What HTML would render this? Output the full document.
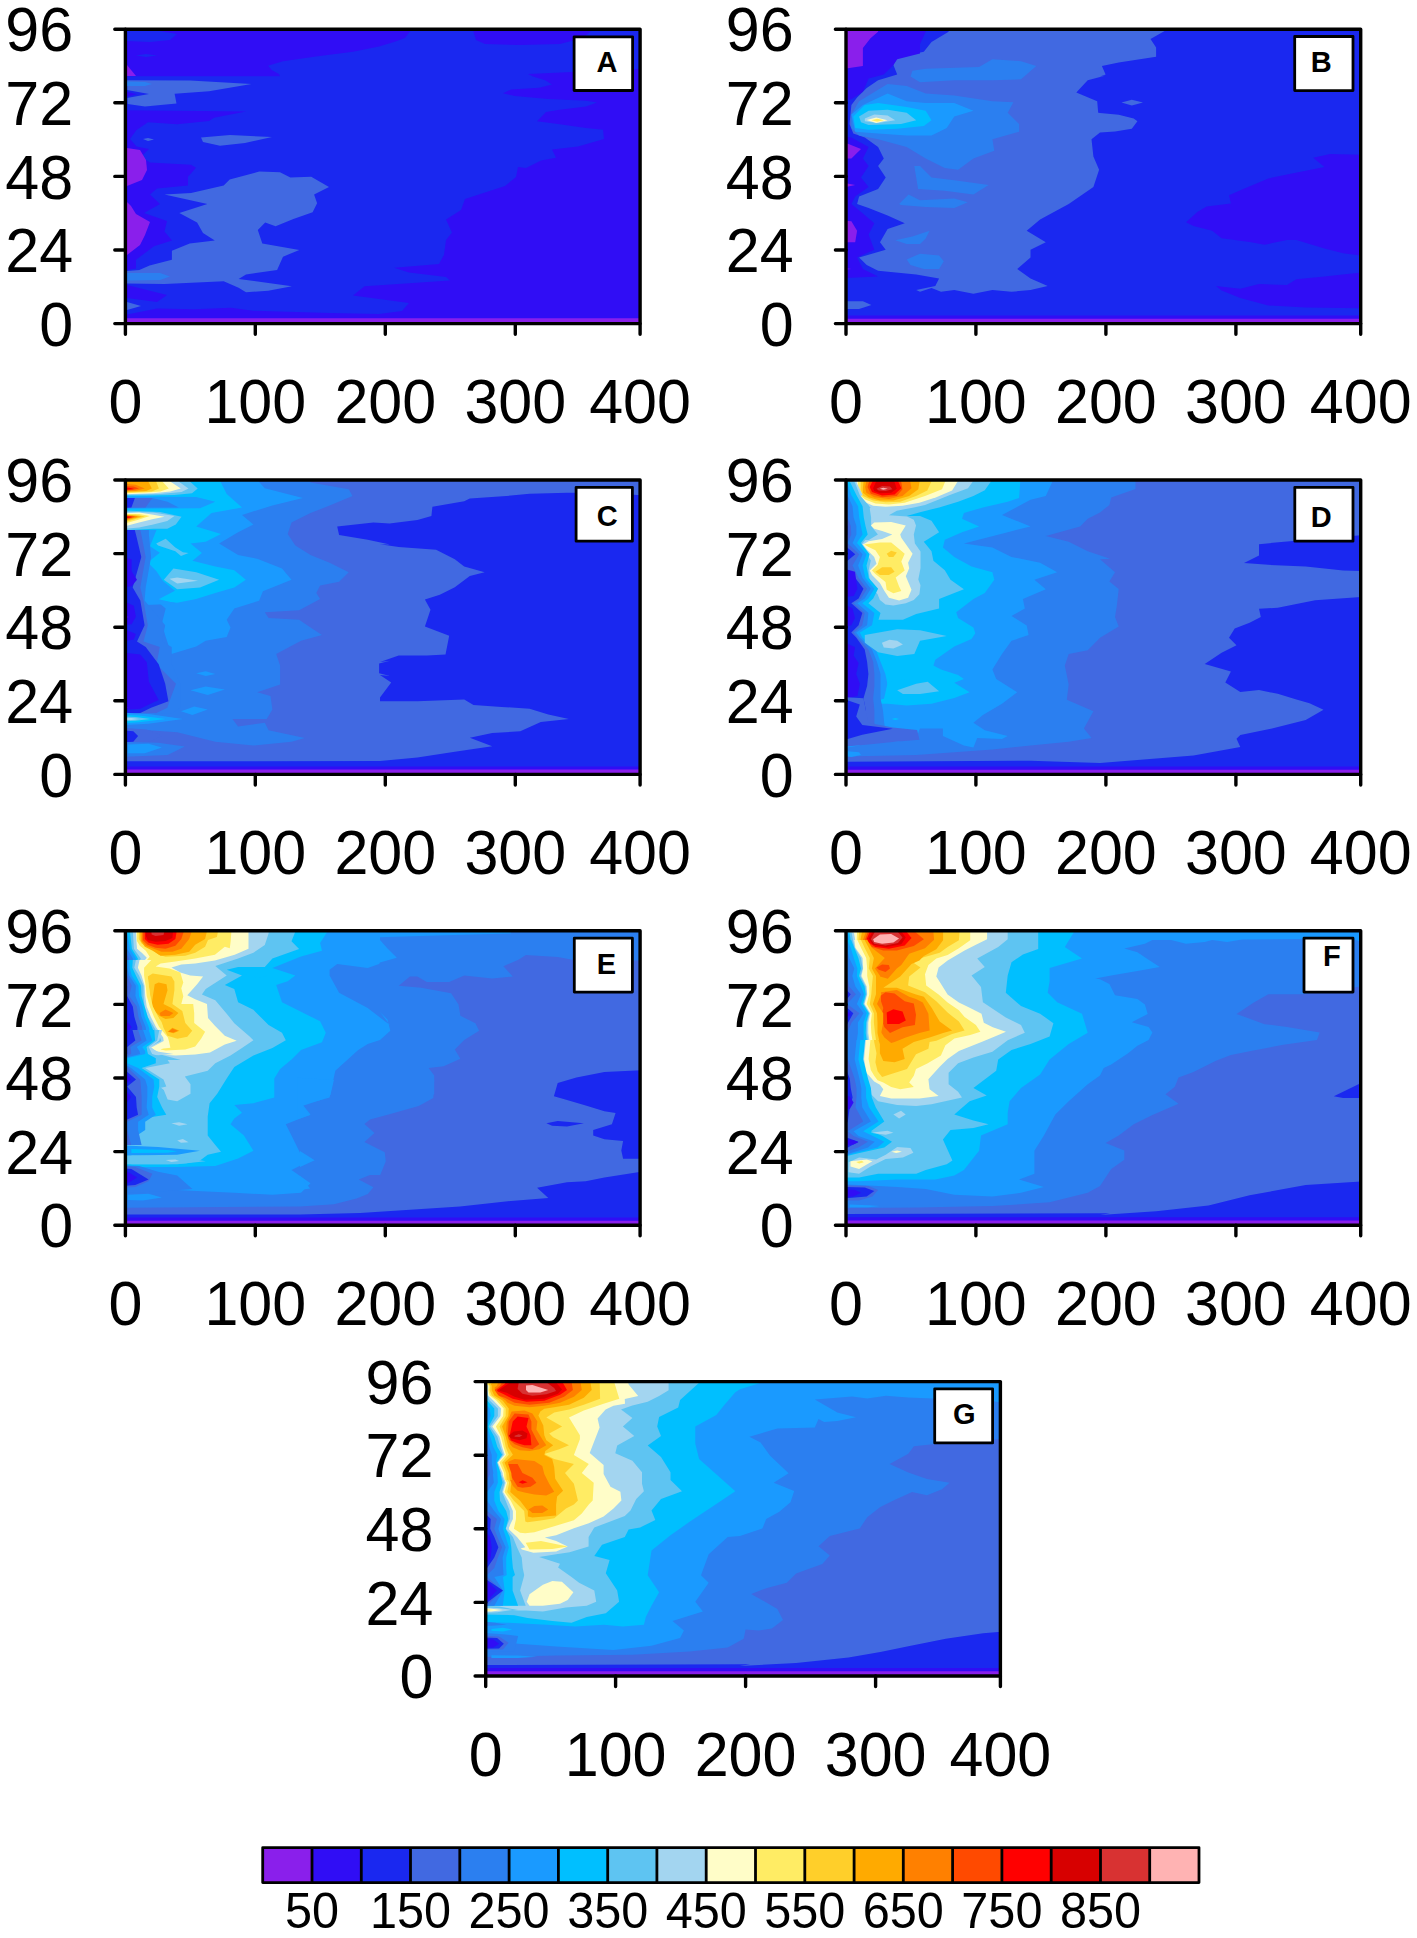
<!DOCTYPE html>
<html><head><meta charset="utf-8"><style>
html,body{margin:0;padding:0;background:#fff;}
body{width:1417px;height:1938px;overflow:hidden;}
svg{display:block;}
text{font-family:"Liberation Sans",sans-serif;fill:#000;}
.tl{font-size:61px;}
.cl{font-size:48.6px;}
.lab{font-size:29px;font-weight:bold;}
</style></head><body>
<svg width="1417" height="1938" viewBox="0 0 1417 1938">
<clipPath id="cA"><rect x="125.4" y="29.2" width="514.7" height="294.4"/></clipPath>
<g clip-path="url(#cA)">
<rect x="125.4" y="29.2" width="514.7" height="294.4" fill="#1A28F0"/>
<path fill="#300DF5" d="M127 30 411 30 405 38 394 42 379 46.5 353 51.7 316 56.5 283 61.3 268 65.8 272 70.2 279 74 280 76.3 127 76.3Z"/>
<path fill="#300DF5" d="M473 30 592 30 588 34 575 40 560 44 520 45 485 44 476 40Z"/>
<path fill="#300DF5" d="M639 69 572 72 528 74 533 76.4 545 80.2 552 84.5 539 87.7 511 89.5 503 93.3 515 96 548 98.9 586 100.7 597 102.6 586 106.4 558 110 546 112 537 121.3 558 124 586 128 603 129.7 604 139 578 146.6 552 149.4 556 157.8 541 160.6 526 168 518 167 516 177 505 186 465 199 461 210 446 219.5 452 232.5 446 240 444 254.7 439 264 394 267.7 409 272.5 446 277 450 280.6 364.5 286.2 353 295.5 409 303 402 311 379 314 330 313 253 310.8 231 307.8 194 309.3 157 308.6 127 314.5 127 322 639 322Z"/>
<path fill="#300DF5" d="M127 110.2 246 111.4 214 117.8 209 121 177 124.2 148 122.2 136.5 130 130 139 136.5 146.4 149 149 148 150 141 156.7 150 162.6 191 164.8 196 167.8 188 176.7 188 185.6 157 188.5 150 194.5 160 204 144 213 167 221 164.5 231.5 172 240.4 154 246.3 136 259.7 136 268.6 127 270Z"/>
<path fill="#300DF5" d="M127 285 167 295 157 302 127 298Z"/>
<path fill="#8A1FEB" d="M127 65 136 76 127 76Z"/>
<path fill="#8A1FEB" d="M127 148 140 150 146 160 147 170 142 180 127 186Z"/>
<path fill="#8A1FEB" d="M127 202 131 206 136 214 150 222 145 235 140 245 127 255Z"/>
<path fill="#8A1FEB" d="M127 318.2 639 318.2 639 323 127 323Z"/>
<path fill="#4169E1" d="M127 80.3 190 80.5 251.5 84 209 91.2 174.6 93.7 176.5 103.6 145 106.4 127.6 104Z"/>
<path fill="#1A28F0" d="M127 89.9 149 94 127 98Z"/>
<path fill="#300DF5" d="M127 91.8 137 94.3 127 96.8Z"/>
<path fill="#2B7FF0" d="M127 81.6 145 82 152 84 145 86 127 86Z"/>
<path fill="#4169E1" d="M201 137.5 230 135 272 137 245 143 220 145.7 203 142Z"/>
<path fill="#4169E1" d="M143 139 148 138 154 139.5 148 141Z"/>
<path fill="#4169E1" d="M164.5 194.5 207.4 204.1 179.3 213 197.1 222.6 203 233 214.8 240.4 189.7 243.4 171.9 250.8 171.9 259.7 149.6 265.6 139.3 270 127 271 127 283.4 164.5 284.1 223.7 281.2 238.6 287.8 246 292.3 268.2 290.8 291.9 286.3 238.6 278.9 246 274.5 277.1 270 283 256.7 299.3 250 262.3 243.4 257.8 230 265.2 222.6 275.6 226.3 293.4 218.9 312.6 212.2 317.1 203.3 314.1 194.5 329 187 311.2 176.7 290.4 177.4 280 172.2 259.3 171.5 229.7 179.6 223.7 185.6 191.1 193Z"/>
<path fill="#4169E1" d="M127 302 141 306 127 310Z"/>
<path fill="#2B7FF0" d="M127 273 160 273 170 276.5 160 280 127 280.4Z"/>
<path fill="#1A28F0" d="M127 30.7 160 31 177 34 170 40 150 42 127 41Z"/>
<path fill="#1A28F0" d="M136 55.5 146 54 157 55.5 146 57Z"/>
</g>
<rect x="125.4" y="29.2" width="514.7" height="294.4" fill="none" stroke="#000" stroke-width="3.4" stroke-linejoin="round"/>
<path d="M125.4 323.6V334.2M255.3 323.6V334.2M385.3 323.6V334.2M515.3 323.6V334.2M640.1 323.6V334.2M125.4 29.2H114.8M125.4 102.8H114.8M125.4 176.4H114.8M125.4 250.0H114.8M125.4 323.6H114.8" stroke="#000" stroke-width="3.4" stroke-linecap="round" fill="none"/>
<text x="125.4" y="422.5" text-anchor="middle" class="tl" transform="matrix(1 0 0 1.03 0 -12.03)">0</text>
<text x="255.3" y="422.5" text-anchor="middle" class="tl" transform="matrix(1 0 0 1.03 0 -12.03)">100</text>
<text x="385.3" y="422.5" text-anchor="middle" class="tl" transform="matrix(1 0 0 1.03 0 -12.03)">200</text>
<text x="515.3" y="422.5" text-anchor="middle" class="tl" transform="matrix(1 0 0 1.03 0 -12.03)">300</text>
<text x="640.1" y="422.5" text-anchor="middle" class="tl" transform="matrix(1 0 0 1.03 0 -12.03)">400</text>
<text x="73.1" y="50.8" text-anchor="end" class="tl" transform="matrix(1 0 0 1.03 0 -0.88)">96</text>
<text x="73.1" y="124.4" text-anchor="end" class="tl" transform="matrix(1 0 0 1.03 0 -3.08)">72</text>
<text x="73.1" y="198.0" text-anchor="end" class="tl" transform="matrix(1 0 0 1.03 0 -5.29)">48</text>
<text x="73.1" y="271.6" text-anchor="end" class="tl" transform="matrix(1 0 0 1.03 0 -7.50)">24</text>
<text x="73.1" y="345.2" text-anchor="end" class="tl" transform="matrix(1 0 0 1.03 0 -9.71)">0</text>
<rect x="574.1" y="36.8" width="58.5" height="53.7" fill="#fff" stroke="#000" stroke-width="2.8" stroke-linejoin="round"/>
<text x="596.4" y="72.3" class="lab">A</text>
<clipPath id="cB"><rect x="846.0" y="29.2" width="514.7" height="294.4"/></clipPath>
<g clip-path="url(#cB)">
<rect x="846.0" y="29.2" width="514.7" height="294.4" fill="#1A28F0"/>
<path fill="#4169E1" d="M948.6 21.2 1165.5 21.3 1165.5 30.6 1150.5 39 1156.1 47.4 1156.1 56.8 1118.7 62.4 1101.9 66.1 1105.6 74.6 1100 76.4 1105.8 75.5 1087.7 80.3 1076.3 92.6 1097.2 101.2 1098.2 112.7 1100 112.9 1118.7 114.8 1133.7 118.5 1137.4 121.3 1131.8 128.8 1115 131.6 1100 132.5 1091.5 139.3 1093.4 156.5 1099.1 169.8 1093.4 187 1068.7 204.1 1040.1 219.4 1026.7 230.8 1045.8 242.2 1030.5 249.8 1030.5 257.5 1017.2 268.9 1030.5 278.4 1047.7 286.1 1030.5 289.9 1011.5 291.8 992.4 289.9 973.4 293.7 954.3 289.9 941 291.8 931.5 288 920 291.8 916.2 289.9 935.3 286.1 939.1 278.4 916.2 274.6 878.1 270.8 866.7 265.1 859.1 257.5 885.7 249.8 880 242.2 887.6 228.9 904.8 223.2 887.6 215.5 868.6 207.9 857.1 204.1 859.1 196.5 878.1 188.9 885.7 177.4 878.1 166 883.8 158.4 878.1 147 864.8 137.4 853.3 133.6 849.5 124.1 851.4 105 857.1 97.4 866.7 87.9 878.1 80.3 897.2 74.5 893.4 65 897.2 57.4 923.8 51.7 931.5 42.1 948.6 31.7Z"/>
<path fill="#4169E1" d="M1121.5 102.6 1131.8 99.8 1143 102.6 1131.8 105.4Z"/>
<path fill="#4169E1" d="M836.2 301.3 862.9 301.3 871.4 305.1 859.1 308.9 836.2 308.9Z"/>
<path fill="#300DF5" d="M836.2 21.2 925.7 21.2 925.7 31.7 920 44.1 920 53.6 897.2 59.3 893.4 65 883.8 74.5 868.6 78.4 862.9 91.7 851.4 99.3 836.2 101.2Z"/>
<path fill="#300DF5" d="M836.2 135.5 851.4 137.4 868.6 147 862.9 158.4 868.6 166 861 177.4 868.6 187 855.2 196.5 851.4 204.1 862.9 213.6 874.3 223.2 868.6 234.6 874.3 249.8 857.1 257.5 862.9 268.9 878.1 276.5 836.2 278.4Z"/>
<path fill="#8A1FEB" d="M836.2 21.2 878.1 21.2 878.1 31.7 870.5 38.3 862.9 47.9 862.9 66 836.2 69.8Z"/>
<path fill="#8A1FEB" d="M836.2 139.3 861 148.9 851.4 158.4 836.2 158.4Z"/>
<path fill="#8A1FEB" d="M836.2 181.2 855.2 185.1 836.2 188.9Z"/>
<path fill="#8A1FEB" d="M836.2 219.4 851.4 221.3 857.1 230.8 855.2 242.2 836.2 242.2Z"/>
<path fill="#8A1FEB" d="M836.2 267 851.4 268.9 836.2 270.8Z"/>
<path fill="#2B7FF0" d="M912.4 70.7 925.7 68.8 979.1 66.9 992.4 59.3 1021 61.2 1036.3 66 1021 79.3 992.4 80.3 954.3 80.3 920 82.2 910.5 76.4Z"/>
<path fill="#2B7FF0" d="M851.4 114.6 859.1 101.2 878.1 89.8 887.6 84.1 906.7 86 925.7 93.6 954.3 95.5 992.4 101.2 1013.4 102.2 1007.7 112.7 1019.1 124.1 1019.1 131.7 992.4 139.3 994.3 150.8 973.4 158.4 958.1 169.8 944.8 167.9 925.7 158.4 906.7 147 878.1 139.3 859.1 135.5 851.4 127.9Z"/>
<path fill="#2B7FF0" d="M914.3 166 920 166 931.5 177.4 954.3 180.3 988.6 185.1 973.4 194.6 944.8 190.8 918.1 188.9 916.2 177.4Z"/>
<path fill="#2B7FF0" d="M899.1 204.1 908.6 194.6 920 200.3 954.3 198.4 967.7 202.2 954.3 207.9 925.7 207 901 205.1Z"/>
<path fill="#2B7FF0" d="M895.3 240.3 912.4 236.5 929.6 230.8 925.7 238.4 920 244.1 906.7 244.1Z"/>
<path fill="#2B7FF0" d="M906.7 259.4 920 253.7 939.1 255.6 943.8 261.3 939.1 268.9 923.8 268.9 910.5 265.1Z"/>
<path fill="#1A9AFF" d="M851.4 114.6 862.9 105 887.6 93.6 906.7 101.2 925.7 103.1 954.3 103.1 973.4 110.7 954.3 116.5 946.7 127.9 931.5 135.5 906.7 135.5 878.1 133.6 855.2 131.7Z"/>
<path fill="#00BFFF" d="M853.3 116.5 864.8 105 878.1 103.1 906.7 106.9 925.7 110.7 931.5 120.3 923.8 126 897.2 128.8 868.6 129.8 855.2 127.9Z"/>
<path fill="#5EC4F2" d="M859.1 116.5 868.6 110.7 887.6 109.8 906.7 112.7 916.2 120.3 901 124.1 868.6 125 861 122.2Z"/>
<path fill="#A3D5F0" d="M864.8 118.4 874.3 114.6 887.6 115.5 895.3 120.3 878.1 123.1 864.8 121.2Z"/>
<path fill="#FFFDC8" d="M866.7 119.9 876.2 117.4 887.6 120.3 876.2 123.1Z"/>
<path fill="#FFEC64" d="M871.4 120.3 877.2 118.8 883.8 120.3 877.2 121.8Z"/>
<path fill="#300DF5" d="M1186 222.3 1197.3 212 1206.6 206.4 1230.9 203.6 1229 195.2 1242.1 189.6 1268.3 178.4 1287 174.6 1324.4 167.1 1313.2 157.8 1330 154 1365.6 155 1365.6 256 1343.1 253.2 1324.4 248.5 1296.4 240.1 1287 240.1 1264.6 244.7 1249.6 241.9 1221.6 238.2 1212.2 230.7 1193.5 226Z"/>
<path fill="#300DF5" d="M1216 285.9 1240.3 288.7 1259 284 1287 285 1296.4 279.3 1324.4 276.5 1365.6 271.9 1365.6 308.3 1305.7 307.4 1268.3 305.5 1240.3 298.1 1221.6 290.6Z"/>
<path fill="#300DF5" d="M830 315.6 1370 315.6 1370 330 830 330Z"/>
<path fill="#8A1FEB" d="M830 318.8 1370 318.8 1370 330 830 330Z"/>
</g>
<rect x="846.0" y="29.2" width="514.7" height="294.4" fill="none" stroke="#000" stroke-width="3.4" stroke-linejoin="round"/>
<path d="M846.0 323.6V334.2M975.9 323.6V334.2M1105.9 323.6V334.2M1235.9 323.6V334.2M1360.7 323.6V334.2M846.0 29.2H835.4M846.0 102.8H835.4M846.0 176.4H835.4M846.0 250.0H835.4M846.0 323.6H835.4" stroke="#000" stroke-width="3.4" stroke-linecap="round" fill="none"/>
<text x="846.0" y="422.5" text-anchor="middle" class="tl" transform="matrix(1 0 0 1.03 0 -12.03)">0</text>
<text x="975.9" y="422.5" text-anchor="middle" class="tl" transform="matrix(1 0 0 1.03 0 -12.03)">100</text>
<text x="1105.9" y="422.5" text-anchor="middle" class="tl" transform="matrix(1 0 0 1.03 0 -12.03)">200</text>
<text x="1235.9" y="422.5" text-anchor="middle" class="tl" transform="matrix(1 0 0 1.03 0 -12.03)">300</text>
<text x="1360.7" y="422.5" text-anchor="middle" class="tl" transform="matrix(1 0 0 1.03 0 -12.03)">400</text>
<text x="793.7" y="50.8" text-anchor="end" class="tl" transform="matrix(1 0 0 1.03 0 -0.88)">96</text>
<text x="793.7" y="124.4" text-anchor="end" class="tl" transform="matrix(1 0 0 1.03 0 -3.08)">72</text>
<text x="793.7" y="198.0" text-anchor="end" class="tl" transform="matrix(1 0 0 1.03 0 -5.29)">48</text>
<text x="793.7" y="271.6" text-anchor="end" class="tl" transform="matrix(1 0 0 1.03 0 -7.50)">24</text>
<text x="793.7" y="345.2" text-anchor="end" class="tl" transform="matrix(1 0 0 1.03 0 -9.71)">0</text>
<rect x="1294.7" y="36.5" width="58.3" height="54.1" fill="#fff" stroke="#000" stroke-width="2.8" stroke-linejoin="round"/>
<text x="1310.8" y="72.1" class="lab">B</text>
<clipPath id="cC"><rect x="125.4" y="480.0" width="514.7" height="294.4"/></clipPath>
<g clip-path="url(#cC)">
<rect x="125.4" y="480.0" width="514.7" height="294.4" fill="#1A28F0"/>
<path fill="#4169E1" d="M116.2 471.2 645.6 471.3 645.6 495.6 604.4 492.8 567 492.8 529.6 493.7 510.9 495.6 469.8 498.4 464.2 501.2 432.4 506.8 431.4 516.1 417.4 519.9 389.4 523.6 380 522.7 390 523.6 373.4 522.6 337.2 526.4 339.1 535 367.7 539.8 390 544.6 380 544.2 398.7 547 436.1 549.8 454.8 559.2 464.2 566.6 484.7 572.3 469.8 576 454.8 587.2 439.8 594.7 424.9 599.4 430.5 609.7 424.9 626.5 449.2 635.8 445.5 654.5 426.8 655.5 398.7 655.5 380 662 390 660.8 379.1 663.6 379.1 673.2 390 676 380 675.1 391.2 682.6 380 697.6 380 701.3 417.4 701.3 464.2 699.4 473.5 705 501.6 706.9 529.6 708.8 548.3 714.4 568.9 719.1 540.8 721.9 520.3 731.2 492.2 733.1 469.8 737.8 492.2 746.2 454.8 751.8 417.4 757.4 380 761.1 116.2 761.2Z"/>
<path fill="#2B7FF0" d="M116.2 471.2 310.5 471.2 310.5 482.6 348.7 489.3 352.5 496 329.6 505.5 310.5 513.1 291.5 522.6 287.7 534.1 295.3 545.5 310.5 555 329.6 562.7 348.7 572.2 339.1 581.7 320.1 585.5 316.3 593.1 320.1 598.9 299.1 610.3 264.8 612.2 268.6 617.9 299.1 619.8 310.5 627.4 322 635.1 301 640.8 276.2 654.1 280.1 665.5 280.1 684.6 257.2 692.2 270.5 696 272.4 709.4 266.7 718.9 232.4 718.9 238.1 726.5 264.8 722.7 268.6 730.3 304.8 738 291.5 741.8 253.4 745.6 215.3 741.8 177.2 732.2 148.6 730.3 116.2 728.4Z"/>
<path fill="#4169E1" d="M196.2 617 205.7 613.1 219.1 617 209.6 619.8Z"/>
<path fill="#4169E1" d="M188.6 637 203.8 636 201.9 640.8Z"/>
<path fill="#1A9AFF" d="M116.2 471.2 249.6 471.2 264.8 488.3 302.9 497.9 272.4 505.5 242 515 253.4 524.5 238.1 532.2 219.1 543.6 238.1 555 257.2 558.8 282 568.4 291.5 579.8 262.9 591.2 259.1 600.8 234.3 608.4 226.7 619.8 230.5 627.4 226.7 637 205.7 640.8 196.2 646.5 171.4 654.1 165.7 637 161.9 623.6 165.7 608.4 154.3 598.9 142.9 597 116.2 597Z"/>
<path fill="#1A9AFF" d="M196.2 673.2 205.7 671.3 215.3 674.1 205.7 676Z"/>
<path fill="#1A9AFF" d="M190.5 690.3 205.7 686.5 224.8 689.4 207.7 695.1Z"/>
<path fill="#1A9AFF" d="M181 711.3 194.3 706.5 207.7 709.4 192.4 715.1Z"/>
<path fill="#00BFFF" d="M116.2 471.2 215.3 471.2 226.7 494.1 242 507.4 226.7 510.3 211.5 513.1 196.2 526.4 221 534.1 205.7 541.7 190.5 543.6 201.9 553.1 192.4 560.7 215.3 566.5 234.3 570.3 245.8 579.8 234.3 587.4 215.3 593.1 196.2 598.9 177.2 602.7 158.1 600.8 144.8 598.9 116.2 598.9Z"/>
<path fill="#5EC4F2" d="M156.2 543.6 165.7 538.8 175.3 547.4 182.9 552.2 188.6 553.1 181 556 175.3 551.2 158.1 545.5Z"/>
<path fill="#5EC4F2" d="M163.8 579.8 173.4 568.4 196.2 572.2 219.1 579.8 200 587.4 177.2 589.3Z"/>
<path fill="#A3D5F0" d="M169.5 578.8 177.2 577.5 198.1 580.8 177.2 583.6Z"/>
<path fill="#1A9AFF" d="M116.2 496.3 196.2 497.1 215.3 501.7 200 508.3 116.2 508.9Z"/>
<path fill="#2B7FF0" d="M116.2 497.9 152.4 498.1 167.6 501.7 178.7 507.6 116.2 507.8Z"/>
<path fill="#4169E1" d="M116.2 498.1 152.4 498.1 145.5 507.6 116.2 507.8Z"/>
<path fill="#1A28F0" d="M116.2 498.1 134.9 498.1 131.4 507.6 116.2 507.8Z"/>
<path fill="#5EC4F2" d="M123.6 476.6 189.9 476.6 189.9 481.5 197.7 488.6 192 493.2 174.4 494.9 146.2 495.6 123.6 495.6Z"/>
<path fill="#A3D5F0" d="M123.6 476.6 178.6 476.6 178.6 481.5 188.5 488.6 181.5 492.1 160.3 493.9 123.6 494.9Z"/>
<path fill="#FFFDC8" d="M123.6 476.6 170.2 476.6 170.2 481.5 180.8 488.6 170.2 491.4 153.2 493.2 123.6 494.2Z"/>
<path fill="#FFEC64" d="M123.6 476.6 162.4 476.6 162.4 481.5 168.8 488.6 160.3 491.4 146.2 492.5 123.6 493.2Z"/>
<path fill="#FFCF2A" d="M123.6 476.6 156.1 476.6 156.1 481.5 158.9 488.6 151.8 491.4 123.6 492.5Z"/>
<path fill="#FFAA00" d="M123.6 476.6 148.3 476.6 148.3 481.5 151.8 488.6 146.2 491.1 123.6 491.8Z"/>
<path fill="#FF8000" d="M123.6 483.6 135.6 484.7 144.8 488.6 135.6 490.7 123.6 491.1Z"/>
<path fill="#FF4A00" d="M123.6 485.8 133.5 486.5 139.1 488.6 132.1 490 123.6 490.4Z"/>
<path fill="#FF0000" d="M123.6 487.2 130.6 487.9 134.2 488.9 129.2 489.6 123.6 489.9Z"/>
<path fill="#5EC4F2" d="M123.6 510.5 160.3 511.9 181.5 516.8 175.8 524.6 167.3 528.8 153.2 528.8 139.1 529.5 123.6 530.2Z"/>
<path fill="#A3D5F0" d="M123.6 511.9 153.2 512.6 174.4 516.1 167.3 521 153.2 524.6 139.1 527.4 123.6 528.8Z"/>
<path fill="#FFFDC8" d="M123.6 513.3 139.1 512.6 153.2 514.7 164.5 516.8 153.2 518.9 139.1 522.5 123.6 526.7Z"/>
<path fill="#FFEC64" d="M123.6 514 139.1 514 149.7 516.1 139.1 519.6 123.6 523.9Z"/>
<path fill="#FFCF2A" d="M123.6 514.7 135.6 514.7 144.8 516.5 135.6 518.9 123.6 522.5Z"/>
<path fill="#FFAA00" d="M123.6 515.1 133.5 515.4 141.2 516.7 133.5 518.6 123.6 521Z"/>
<path fill="#FF8000" d="M123.6 515.4 132.1 515.8 137.7 516.7 132.1 518.2 123.6 520Z"/>
<path fill="#FF4A00" d="M123.6 515.8 130.6 516.1 134.9 516.8 130.6 517.9 123.6 519.3Z"/>
<path fill="#FF0000" d="M123.6 516.1 129.2 516.5 132.1 517 129.2 517.7 123.6 518.6Z"/>
<path fill="#1A9AFF" d="M102.3 530 156.5 530 150 546.3 159.8 552.8 147.8 562.5 156.5 571.2 163 580.9 174.9 590.7 158.7 599.3 178.2 603.7 121.8 605.8 102.3 605.8Z"/>
<path fill="#2B7FF0" d="M102.3 530 148.9 530 148.9 534.3 151.1 557.1 145.7 587.4 144.6 600.4 165.2 625.3 161.9 641.6 171.7 647 171.7 664.3 180.3 683.8 180.3 701.2 180.3 707.7 172.8 713.1 121.8 714.2 102.3 714.2Z"/>
<path fill="#4169E1" d="M102.3 530 140.3 530 141.3 534.3 145.7 557.1 140.3 587.4 143.5 600.4 147.8 625.3 143.5 641.6 159.8 647 156.5 664.3 176 683.8 169.5 701.2 167.3 707.7 156.5 713.1 121.8 714.2 102.3 714.2Z"/>
<path fill="#1A28F0" d="M102.3 530 134.8 530 135.9 534.3 141.3 557.1 132.7 587.4 140.3 600.4 144.6 625.3 137 641.6 145.7 647 158.7 664.3 165.2 683.8 168.4 701.2 151.1 707.7 140.3 713.1 121.8 714.2 102.3 714.2Z"/>
<path fill="#300DF5" d="M121.8 557.1 131.6 559.3 131.6 571.2 137 579.8 131.6 586.3 121.8 587.4Z"/>
<path fill="#300DF5" d="M121.8 600.4 133.8 605.8 135.9 616.7 131.6 624.3 121.8 625.3Z"/>
<path fill="#8A1FEB" d="M121.8 615.6 128.9 616.9 121.8 618.3Z"/>
<path fill="#300DF5" d="M121.8 628 135.9 634 133.8 639.4 121.8 641.6Z"/>
<path fill="#300DF5" d="M121.8 652.4 140.3 654.6 146.8 662.2 148.9 681.7 158.7 700.1 148.9 704.4 140.3 708.8 121.8 709.8Z"/>
<path fill="#8A1FEB" d="M121.8 706.6 128.3 707.7 121.8 708.8Z"/>
<path fill="#1A9AFF" d="M116.2 712.2 148.6 714.1 182.9 718.9 148.6 723.7 116.2 725.6Z"/>
<path fill="#00BFFF" d="M116.2 714.1 139.1 715.5 165.7 718.9 139.1 722.3 116.2 723.7Z"/>
<path fill="#5EC4F2" d="M116.2 716 135.2 717 150.5 718.9 135.2 720.8 116.2 721.8Z"/>
<path fill="#A3D5F0" d="M116.2 717.4 131.4 718.1 139.1 718.9 131.4 719.9 116.2 720.4Z"/>
<path fill="#4169E1" d="M116.2 727.5 146.7 729.4 161.9 736.1 146.7 742.7 116.2 743.7Z"/>
<path fill="#1A28F0" d="M116.2 729.4 133.3 731.3 138.1 736.1 133.3 741.8 116.2 742.7Z"/>
<path fill="#2B7FF0" d="M116.2 741.8 158.1 742.7 184.8 746.5 167.6 755.1 116.2 757Z"/>
<path fill="#1A9AFF" d="M127.6 744.6 148.6 743.7 161.9 747.5 144.8 753.2 127.6 753.2Z"/>
<path fill="#300DF5" d="M110 766.4 650 766.4 650 780 110 780Z"/>
<path fill="#8A1FEB" d="M110 769.6 650 769.6 650 780 110 780Z"/>
</g>
<rect x="125.4" y="480.0" width="514.7" height="294.4" fill="none" stroke="#000" stroke-width="3.4" stroke-linejoin="round"/>
<path d="M125.4 774.4V785.0M255.3 774.4V785.0M385.3 774.4V785.0M515.3 774.4V785.0M640.1 774.4V785.0M125.4 480.0H114.8M125.4 553.6H114.8M125.4 627.2H114.8M125.4 700.8H114.8M125.4 774.4H114.8" stroke="#000" stroke-width="3.4" stroke-linecap="round" fill="none"/>
<text x="125.4" y="873.3" text-anchor="middle" class="tl" transform="matrix(1 0 0 1.03 0 -25.55)">0</text>
<text x="255.3" y="873.3" text-anchor="middle" class="tl" transform="matrix(1 0 0 1.03 0 -25.55)">100</text>
<text x="385.3" y="873.3" text-anchor="middle" class="tl" transform="matrix(1 0 0 1.03 0 -25.55)">200</text>
<text x="515.3" y="873.3" text-anchor="middle" class="tl" transform="matrix(1 0 0 1.03 0 -25.55)">300</text>
<text x="640.1" y="873.3" text-anchor="middle" class="tl" transform="matrix(1 0 0 1.03 0 -25.55)">400</text>
<text x="73.1" y="501.6" text-anchor="end" class="tl" transform="matrix(1 0 0 1.03 0 -14.40)">96</text>
<text x="73.1" y="575.2" text-anchor="end" class="tl" transform="matrix(1 0 0 1.03 0 -16.61)">72</text>
<text x="73.1" y="648.8" text-anchor="end" class="tl" transform="matrix(1 0 0 1.03 0 -18.82)">48</text>
<text x="73.1" y="722.4" text-anchor="end" class="tl" transform="matrix(1 0 0 1.03 0 -21.02)">24</text>
<text x="73.1" y="796.0" text-anchor="end" class="tl" transform="matrix(1 0 0 1.03 0 -23.23)">0</text>
<rect x="576.1" y="487.3" width="56.3" height="53.9" fill="#fff" stroke="#000" stroke-width="2.8" stroke-linejoin="round"/>
<text x="596.7" y="526.4" class="lab">C</text>
<clipPath id="cD"><rect x="846.0" y="480.0" width="514.7" height="294.4"/></clipPath>
<g clip-path="url(#cD)">
<rect x="846.0" y="480.0" width="514.7" height="294.4" fill="#4169E1"/>
<path fill="#2B7FF0" d="M836.2 471.2 1135.5 471.3 1135.5 489 1111.2 497.4 1109.4 504.9 1100 512.4 1087.7 518.8 1080.1 526.4 1045.8 536 1068.7 541.7 1087.7 551.2 1110 558.8 1100 559.2 1115 572.3 1109.4 581.6 1118.7 589.1 1116.8 605.9 1115 617.1 1118.7 626.5 1100 637.7 1087.7 650.3 1068.7 654.1 1064.8 665.5 1068.7 684.6 1066.8 699.8 1093.4 711.3 1083.9 728.4 1091.5 738 1068.7 741.8 1030.5 745.6 992.4 749.4 916.2 755.1 836.2 756.6Z"/>
<path fill="#1A9AFF" d="M836.2 471.2 1057.2 471.2 1045.8 496 1030.5 499.8 1002 515 1030.5 526.4 1007.7 532.2 963.9 543.6 992.4 547.4 1011.5 556.9 1040.1 562.7 1057.2 572.2 1034.4 579.8 1045.8 589.3 1022.9 598.9 1024.8 608.4 1011.5 616 1026.7 625.5 1028.6 635.1 1011.5 640.8 1002 654.1 992.4 669.4 996.2 678.9 1017.2 692.2 1002 703.7 982.9 715.1 973.4 722.7 984.8 730.3 1007.7 736.1 1002 738.9 977.2 738 973.4 747.5 963.9 745.6 942.9 736.1 942.9 728.4 920 728.4 916.2 738 897.2 741.8 878.1 739.9 859.1 745.6 836.2 749.4Z"/>
<path fill="#00BFFF" d="M836.2 471.2 1021 471.2 1019.1 497.9 1007.7 501.7 982.9 507.4 963.9 513.1 962 518.8 979.1 526.4 962 532.2 944.8 539.8 942.9 547.4 954.3 556.9 971.5 566.5 992.4 572.2 994.3 579.8 984.8 593.1 973.4 598.9 956.2 612.2 958.1 617.9 973.4 627.4 975.3 633.2 971.5 638.9 954.3 646.5 935.3 659.8 933.4 665.5 941 669.4 958.1 675.1 963.9 678.9 954.3 682.7 969.6 692.2 954.3 697.9 931.5 703.7 906.7 705.6 887.6 703.7 836.2 703.7Z"/>
<path fill="#5EC4F2" d="M836.2 471.2 998.2 471.2 984.8 490.2 973.4 496 958.1 501.7 939.1 507.4 920 512.2 906.7 516 920 516 931.5 520.7 939.1 532.2 923.8 541.7 931.5 551.2 933.4 560.7 944.8 570.3 950.5 579.8 963.9 589.3 954.3 593.1 939.1 598.9 939.1 608.4 916.2 614.1 902.9 619.8 836.2 619.8Z"/>
<path fill="#A3D5F0" d="M843.7 475.7 977 475.7 968 488.2 949.9 494.9 936.3 500.6 925 505.1 913.8 507.4 896.8 510.7 888.9 515.3 907 516.4 913.8 519.8 916 525.4 913.8 534.5 914.9 543.5 920.5 551.4 920.5 561.6 920.5 568.3 918.3 579.6 920.5 585.3 919.4 594.3 913.8 600 905.8 603.3 893.4 605.6 885.5 604.5 879.9 600 877.6 594.3 872 587.5 869.7 579.6 868.6 570.6 870.8 560.4 865.2 551.4 860.7 545.8 865.2 540.1 874.2 535.6 867.5 532.2 864.1 525.4 864.1 516.4 867.5 509.6 870.8 507.4 865.2 505.1 858.4 498.3 855 489.3 852.8 475.7Z"/>
<path fill="#FFFDC8" d="M856.7 475.7 961.2 475.7 952.1 490.4 936.3 497.2 919.4 502.8 902.5 505.7 885.5 506.8 873.1 505.7 864.1 501.7 858.4 496.1 856.7 489.3Z"/>
<path fill="#FFFDC8" d="M870.8 525.4 874.2 522.6 891.2 522 905.8 525.4 900.2 534.5 901.3 537.8 912.6 553.7 908.1 562.7 909.2 568.3 905.8 576.2 911.5 589.8 908.1 597.7 899.1 600.5 888.9 597.7 884.4 590.9 879.9 583 872 575.1 869.7 570.6 876.5 563.8 874.2 557 867.5 550.3 862.9 544.6 868.6 541.2 882.1 539 892.3 534.5 882.1 531.1 874.2 528.8Z"/>
<path fill="#FFEC64" d="M857.3 475.7 947.6 475.7 942 489.3 925 496.1 904.7 502.8 888.9 504.5 875.4 503.4 865.2 499.5 859.6 494.9 858.4 489.3Z"/>
<path fill="#FFEC64" d="M864.1 544.6 879.9 542.4 891.2 542.4 897.9 548 904.7 553.7 901.3 561.6 904.7 570.6 895.7 577.4 899.1 586.4 901.3 590.9 893.4 593.2 886.7 589.8 885.5 581.9 879.9 577.4 875.4 574 872 570.6 877.6 564.9 879.9 557 875.4 550.3 868.6 546.9Z"/>
<path fill="#FFCF2A" d="M860.7 475.7 934.1 475.7 927.3 490.4 916 496.1 900.2 501.7 885.5 502.3 873.1 500.6 862.9 496.1 860.7 489.3Z"/>
<path fill="#FFCF2A" d="M886.7 553.7 891.2 550.8 896.8 552.5 893.4 557 888.9 557Z"/>
<path fill="#FFCF2A" d="M875.4 571.7 882.1 567.2 891.2 567.2 894.6 571.7 888.9 575.1 879.9 575.1Z"/>
<path fill="#FFAA00" d="M864.1 475.7 920.5 475.7 918.3 489.3 909.2 496.1 893.4 500.6 879.9 500.6 868.6 497.2 862.9 492.7 862.9 488.2Z"/>
<path fill="#FF8000" d="M867.5 475.7 909.2 475.7 911.5 488.2 902.5 496.1 888.9 498.9 874.2 497.2 866.3 492.7 865.2 487Z"/>
<path fill="#FF4A00" d="M870.8 475.7 900.2 475.7 902.5 489.3 896.8 496.1 882.1 497.2 870.8 493.8 867.5 487Z"/>
<path fill="#FF0000" d="M875.4 475.7 895.7 475.7 901.3 488.2 894.6 494.4 882.1 495.5 872 492.1 869.7 487Z"/>
<path fill="#D70000" d="M878.7 475.7 892.3 475.7 896.8 488.7 891.2 492.7 879.9 493.2 874.2 491 873.1 488.2Z"/>
<path fill="#D83232" d="M882.1 485.9 890 486.5 892.3 489.3 885.5 491 878.7 490.4 876.5 488.7Z"/>
<path fill="#FFB3B3" d="M879.9 488.7 883.3 487.7 887.8 488.7 883.3 489.7Z"/>
<path fill="#A3D5F0" d="M832.7 481.4 855.3 481.4 857 483.6 862.6 494.9 842.9 506.2 842.9 517.5 842.9 526 842.9 534.5 842.9 540 832.7 540Z"/>
<path fill="#5EC4F2" d="M832.7 481.4 854.2 481.4 855.3 483.6 859.8 494.9 869.4 506.2 871.1 517.5 871.1 526 877.9 534.5 868.7 540 832.7 540Z"/>
<path fill="#00BFFF" d="M832.7 481.4 849.6 481.4 850.8 483.6 856.4 494.9 862.6 506.2 863.8 517.5 865.5 526 867.7 534.5 863.2 540 832.7 540Z"/>
<path fill="#1A9AFF" d="M832.7 481.4 847.4 481.4 847.4 483.6 851.3 494.9 858.1 506.2 859.2 517.5 860.9 526 862.6 534.5 858.7 540 832.7 540Z"/>
<path fill="#2B7FF0" d="M832.7 481.4 842.9 481.4 842.9 483.6 847.4 494.9 852.5 506.2 853.6 517.5 856.4 526 856.4 534.5 853.9 540 832.7 540Z"/>
<path fill="#4169E1" d="M832.7 481.4 842.9 481.4 842.9 483.6 842.9 494.9 847.4 506.2 847.4 517.5 850.8 526 851.3 534.5 848.8 540 832.7 540Z"/>
<path fill="#1A28F0" d="M832.7 481.4 842.9 481.4 842.9 483.6 842.9 494.9 842.9 506.2 842.9 517.5 847.4 526 847.4 534.5 845.1 540 832.7 540Z"/>
<path fill="#00BFFF" d="M819.6 540 863.2 540 860.9 542.9 869.5 554.2 866.5 565.6 868.8 578 878.1 588.7 873.2 598.5 868.4 603.3 880.5 613.1 876.9 625.2 864.7 632.5 865.9 637.4 880.5 649.6 884.2 661.8 890.3 674 895.1 686.1 841.6 698.3 841.6 710.5 841.6 722.7 841.6 730 819.6 730Z"/>
<path fill="#1A9AFF" d="M819.6 540 858.7 540 857 542.9 866.5 554.2 862.6 565.6 865.4 578 874.4 588.7 868.4 598.5 862.3 603.3 874.4 613.1 872 625.2 859.8 632.5 862.3 637.4 875.7 649.6 880.5 661.8 885.4 674 887.8 686.1 885.4 698.3 841.6 710.5 841.6 722.7 841.6 730 819.6 730Z"/>
<path fill="#2B7FF0" d="M819.6 540 854 540 852.5 542.9 862.6 554.2 858.1 565.6 862.6 578 870.8 588.7 864.7 598.5 857.4 603.3 868.4 613.1 867.1 625.2 856.2 632.5 859.8 637.4 872 649.6 876.9 661.8 880.5 674 880.5 686.1 880.5 698.3 883 710.5 884.2 722.7 885.4 730 819.6 730Z"/>
<path fill="#4169E1" d="M819.6 540 848.7 540 847.4 542.9 859.2 554.2 852.5 565.6 858.7 578 867.1 588.7 861 598.5 853.7 603.3 864.7 613.1 862.3 625.2 853.7 632.5 857.4 637.4 868.4 649.6 873.2 661.8 874.4 674 874.4 686.1 873.2 698.3 874.4 710.5 874.4 722.7 875.7 730 819.6 730Z"/>
<path fill="#1A28F0" d="M819.6 540 845.1 540 841.6 542.9 855.3 554.2 841.6 565.6 855.3 578 863.5 588.7 858.6 598.5 851.3 603.3 862.3 613.1 858.6 625.2 851.3 632.5 856.2 637.4 864.7 649.6 867.1 661.8 868.4 674 867.1 686.1 863.5 698.3 865.9 710.5 865.9 722.7 865.9 730 819.6 730Z"/>
<path fill="#5EC4F2" d="M864.8 635.1 897.2 629.3 920 630.3 946.7 636 920 640.8 914.3 654.1 897.2 656 878.1 652.2 864.8 642.7Z"/>
<path fill="#A3D5F0" d="M881.9 642.7 889.5 639.8 897.2 640.8 902.9 644.6 893.4 648.4 883.8 647.4Z"/>
<path fill="#00BFFF" d="M887.6 682.7 906.7 678.9 925.7 680.8 935.3 688.4 939.1 696 916.2 699.8 897.2 703.7 883.8 699.8Z"/>
<path fill="#5EC4F2" d="M897.2 690.3 916.2 683.7 927.7 681.7 933.4 686.5 939.1 691.3 920 694.1 902.9 694.1Z"/>
<path fill="#00BFFF" d="M891.4 718.9 895.3 717.9 899.1 718.9 895.3 719.9Z"/>
<path fill="#300DF5" d="M841.6 568 855 571.7 856.2 580.2 857.4 588.7 853.7 596 841.6 597.2Z"/>
<path fill="#300DF5" d="M841.6 603.3 852.5 608.2 855 617.9 851.3 625.2 841.6 627.7Z"/>
<path fill="#300DF5" d="M841.6 641.1 855 647.2 853.7 655.7 858.6 663 856.2 674 859.8 683.7 857.4 695.9 841.6 699.5Z"/>
<path fill="#4169E1" d="M841.6 697.1 863.5 698.3 865.9 710.5 868.4 722.7 892.7 727.5 917.1 730 919.5 739.7 892.7 742.1 868.4 744.6 841.6 747Z"/>
<path fill="#1A28F0" d="M841.6 698.3 859.8 704.4 856.2 716.6 862.3 725.1 892.7 728.7 862.3 734.8 841.6 740.9Z"/>
<path fill="#1A9AFF" d="M847.6 751.3 859.1 752.2 861 755.1 851.4 757 847.6 756.6Z"/>
<path fill="#1A28F0" d="M1244 562.9 1259 555.4 1259 544.2 1287 541.4 1365.6 534.8 1365.6 571.3 1343.1 570.4 1305.7 566.6 1268.3 564.8Z"/>
<path fill="#1A28F0" d="M1365.6 596.6 1315.1 600.3 1277.7 607.8 1259 608.7 1260.8 617.1 1249.6 622.7 1234.7 628.4 1229 637.7 1236.5 645.2 1221.6 652.7 1204.7 663.9 1230.9 671.4 1225.3 682.6 1240.3 691.9 1259 690.1 1277.7 693.8 1296.4 699.4 1309.5 703.2 1323.5 709.7 1305.7 720 1268.3 729.3 1240.3 735 1236.5 738.7 1240.3 747.1 1193.5 755.5 1100 763 1030.5 760.8 836.2 761.8 836.2 798.9 1365.6 792.9Z"/>
<path fill="#300DF5" d="M830 766.6 1370 766.6 1370 780 830 780Z"/>
<path fill="#8A1FEB" d="M830 769.8 1370 769.8 1370 780 830 780Z"/>
</g>
<rect x="846.0" y="480.0" width="514.7" height="294.4" fill="none" stroke="#000" stroke-width="3.4" stroke-linejoin="round"/>
<path d="M846.0 774.4V785.0M975.9 774.4V785.0M1105.9 774.4V785.0M1235.9 774.4V785.0M1360.7 774.4V785.0M846.0 480.0H835.4M846.0 553.6H835.4M846.0 627.2H835.4M846.0 700.8H835.4M846.0 774.4H835.4" stroke="#000" stroke-width="3.4" stroke-linecap="round" fill="none"/>
<text x="846.0" y="873.3" text-anchor="middle" class="tl" transform="matrix(1 0 0 1.03 0 -25.55)">0</text>
<text x="975.9" y="873.3" text-anchor="middle" class="tl" transform="matrix(1 0 0 1.03 0 -25.55)">100</text>
<text x="1105.9" y="873.3" text-anchor="middle" class="tl" transform="matrix(1 0 0 1.03 0 -25.55)">200</text>
<text x="1235.9" y="873.3" text-anchor="middle" class="tl" transform="matrix(1 0 0 1.03 0 -25.55)">300</text>
<text x="1360.7" y="873.3" text-anchor="middle" class="tl" transform="matrix(1 0 0 1.03 0 -25.55)">400</text>
<text x="793.7" y="501.6" text-anchor="end" class="tl" transform="matrix(1 0 0 1.03 0 -14.40)">96</text>
<text x="793.7" y="575.2" text-anchor="end" class="tl" transform="matrix(1 0 0 1.03 0 -16.61)">72</text>
<text x="793.7" y="648.8" text-anchor="end" class="tl" transform="matrix(1 0 0 1.03 0 -18.82)">48</text>
<text x="793.7" y="722.4" text-anchor="end" class="tl" transform="matrix(1 0 0 1.03 0 -21.02)">24</text>
<text x="793.7" y="796.0" text-anchor="end" class="tl" transform="matrix(1 0 0 1.03 0 -23.23)">0</text>
<rect x="1294.8" y="487.3" width="58.2" height="53.9" fill="#fff" stroke="#000" stroke-width="2.8" stroke-linejoin="round"/>
<text x="1310.8" y="526.6" class="lab">D</text>
<clipPath id="cE"><rect x="125.4" y="930.8" width="514.7" height="294.4"/></clipPath>
<g clip-path="url(#cE)">
<rect x="125.4" y="930.8" width="514.7" height="294.4" fill="#4169E1"/>
<path fill="#2B7FF0" d="M116.2 922.2 645.6 922.3 645.6 960.6 572.6 959.7 557.7 956.9 525.9 955 518.4 959.7 503.4 966.2 512.8 976.5 492.2 978.4 464.2 975.6 449.2 982.1 426.8 982.1 417.4 976.5 409.9 976.5 398.7 985.8 421.1 987.7 451.1 993.3 458.5 1004.5 460.4 1015.8 475.4 1023.3 479.1 1030.7 464.2 1040.1 454.8 1049.4 460.4 1058.8 443.6 1066.3 428.6 1068.1 434.2 1075.6 434.2 1094.3 423 1103.7 402.4 1109.3 434.4 1080 433.3 1098 418.6 1106 390.3 1113.9 370 1119.5 364.4 1124 374.5 1133 364.4 1142 384.7 1152.3 385.8 1161.3 380.2 1174.9 370 1174.9 358.7 1179.4 373.4 1187.3 367.8 1194 356.5 1198.6 333.9 1204.2 300 1206.5 100 1208Z"/>
<path fill="#1A9AFF" d="M116.2 922.2 510.9 922.3 510.9 933.5 436.1 935.4 380 937.2 380 940 387.5 948.4 396.8 957.8 380 962.5 379.1 964.1 367.7 967.9 337.2 964.1 329.6 969.8 329.6 975.5 339.1 992.7 367.7 1007.9 384.9 1021.3 390 1025.1 380 1012 387.5 1019.5 390.3 1030.7 380 1040.1 367.7 1044.1 358.2 1049.9 335.3 1070.8 329.6 1097.5 302.9 1105.1 310.5 1114.6 285.8 1124.2 291.5 1135.6 301 1154.7 310.5 1160.4 291.5 1169.9 310.5 1183.2 301 1192.8 272.4 1194.7 234.3 1192.8 196.2 1190.9 158.1 1189 116.2 1189Z"/>
<path fill="#1A9AFF" d="M333.9 1080 330.5 1094.7 322.6 1099.2 302.3 1106 310.2 1115 300 1118.4 297.7 1118.4 297.7 1077.7Z"/>
<path fill="#1A9AFF" d="M300 1151.1 314.7 1160.2 300 1166.9Z"/>
<path fill="#1A9AFF" d="M300 1176 310.2 1188.4 300 1190.1Z"/>
<path fill="#00BFFF" d="M116.2 922.2 333.4 922.2 320.1 943.1 322 950.8 301 956.5 272.4 967.9 295.3 975.5 287.7 981.3 276.2 985.1 282 1002.2 301 1011.7 320.1 1021.3 325.8 1032.7 322 1042.2 301 1049.9 291.5 1059.4 280.1 1068.9 274.3 1078.4 274.3 1097.5 253.4 1103.2 234.3 1105.1 242 1112.7 234.3 1118.5 230.5 1124.2 243.9 1135.6 253.4 1150.8 238.1 1158.5 215.3 1166.1 177.2 1167 139.1 1167 116.2 1167Z"/>
<path fill="#5EC4F2" d="M116.2 922.2 299.1 922.2 291.5 941.2 299.1 948.9 272.4 958.4 264.8 967 238.1 967 226.7 969.8 242 975.5 224.8 985.1 234.3 988.9 238.1 1002.2 253.4 1009.8 268.6 1025.1 282 1032.7 285.8 1040.3 272.4 1048 253.4 1055.6 234.3 1067 226.7 1078.4 217.2 1093.7 209.6 1103.2 207.7 1116.5 207.7 1135.6 215.3 1145.1 221 1151.8 207.7 1154.7 200 1160.4 186.7 1163.2 167.6 1164.2 116.2 1164.2Z"/>
<path fill="#00BFFF" d="M245.8 974.6 257.2 973.6 266.7 975.9 257.2 977.8Z"/>
<path fill="#A3D5F0" d="M116.2 922.2 268.6 922.2 268.6 933.6 264.8 945.1 253.4 952.7 238.1 958.4 215.3 966 226.7 975.5 205.7 988.9 201.9 994.6 215.3 1000.3 226.7 1013.7 234.3 1023.2 249.6 1036.5 253.4 1040.3 242 1048 230.5 1055.6 215.3 1063.2 207.7 1070.8 184.8 1076.5 190.5 1084.2 190.5 1093.7 177.2 1101.3 167.6 1099.4 163.8 1089.9 154.3 1082.2 116.2 1082.2Z"/>
<path fill="#A3D5F0" d="M171.4 1123.2 179.1 1122.3 187.6 1124.2 179.1 1125.7Z"/>
<path fill="#A3D5F0" d="M177.2 1140.4 182.9 1139 188.6 1142.3 181 1142.8Z"/>
<path fill="#FFFDC8" d="M124 927 248.5 927 248.5 948.8 234.7 954.7 214.9 960.6 195.2 963.6 181.3 964.6 171.5 967.5 180.3 972.5 190.2 975.4 203.1 976.4 197.1 984.3 187.3 995.2 195.2 999.2 207 1004.1 208 1017.9 214.9 1025.8 224.8 1035.7 236.7 1040.7 224.8 1044.6 210 1052.5 195.2 1054.5 175.4 1055.5 160.6 1054.5 150.7 1050.5 158.6 1045.6 162.6 1041.6 157.6 1033.7 152.7 1023.9 148.7 1016 145.8 1008.1 143.8 998.2 144.8 988.3 143.8 978.4 140.8 972.5 137.9 967.5 143.8 961.6 146.8 957.7 141.8 952.7 136.9 948.8 135.9 943.8 135.9 927Z"/>
<path fill="#FFEC64" d="M136.9 927 231.7 927 230.7 940.9 229.8 948.3 224.8 946.8 214.9 954.7 195.2 958.6 175.4 961.6 160.6 963.6 155.6 966.5 169.5 968.5 180.3 972.5 183.3 982.4 181.3 988.3 183.3 996.2 181.3 1004.1 193.2 1004.1 194.2 1013 194.2 1022.9 205.1 1031.8 201.1 1038.7 195.2 1046.6 185.3 1049.6 165.5 1050.5 160.6 1049.6 167.5 1045.6 168.5 1041.6 162.6 1037.7 158.6 1027.8 155.6 1017.9 151.7 1011 148.7 1003.1 145.8 996.2 144.8 988.3 143.8 978.4 142.8 968.5 145.8 961.6 149.7 956.7 145.8 950.7 139.8 945.8 136.9 940.9Z"/>
<path fill="#FFCF2A" d="M138.8 927 218.9 927 216.9 936.9 208 939.9 205.1 946.8 195.2 952.7 185.3 955.7 165.5 956.7 158.6 954.7 151.7 948.8 141.8 943.8 138.8 938.9Z"/>
<path fill="#FFCF2A" d="M147.7 976.4 152.7 973.5 171.5 976.4 174.4 981.4 174.4 990.3 172.4 1004.1 182.3 1011 185.3 1022.9 192.2 1030.8 187.3 1036.7 177.4 1038.7 167.5 1035.7 163.5 1027.8 161.6 1021.9 157.6 1016 151.7 1006.1 149.7 993.2 148.7 984.3Z"/>
<path fill="#FFAA00" d="M139.8 927 208 927 205.1 938.9 195.2 944.8 189.2 951.7 175.4 954.7 160.6 955.7 152.7 950.7 144.8 946.8 140.8 940.9Z"/>
<path fill="#FFAA00" d="M151.7 1004.1 154.7 984.3 158.6 982.4 166.5 984.3 167.5 990.3 163.5 1004.1 171.5 1008.1 178.4 1013 173.4 1017.9 165.5 1018.9 159.6 1016 153.7 1010Z"/>
<path fill="#FFAA00" d="M167.5 1031.8 172.4 1027.8 179.4 1030.8 173.4 1033.2Z"/>
<path fill="#FF8000" d="M141.8 927 193.2 927 189.2 938.9 181.3 948.8 172.4 951.7 161.6 951.7 153.7 948.8 145.8 945.8 141.8 940.9Z"/>
<path fill="#FF8000" d="M159.6 1013 165.5 1009.5 173.4 1013 169.5 1016 160.6 1016Z"/>
<path fill="#FF8000" d="M168.5 1031.8 172.4 1028.6 177.9 1030.8 173.4 1032.6Z"/>
<path fill="#FF4A00" d="M142.8 927 185.3 927 181.3 938.9 175.4 945.8 165.5 948.8 155.6 947.8 147.7 944.8 142.8 939.9Z"/>
<path fill="#FF0000" d="M144.8 927 177.4 927 175.4 938.9 168.5 943.8 157.6 944.8 148.7 942.8 144.8 938.9Z"/>
<path fill="#D70000" d="M145.8 927 173.4 927 172.4 937.9 165.5 940.9 155.6 941.8 147.7 939.9 145.8 935.9Z"/>
<path fill="#D83232" d="M150.7 927 165.5 927 163.5 934.9 155.6 935.9 151.7 934.4Z"/>
<path fill="#A3D5F0" d="M106.2 932 135.9 932 136.9 948.8 144.8 958.6 143.7 960 106.2 960Z"/>
<path fill="#5EC4F2" d="M106.2 932 132.9 932 133.9 948.8 140.8 958.6 140.1 960 106.2 960Z"/>
<path fill="#00BFFF" d="M106.2 932 130 932 131.9 948.8 137.9 958.6 137.5 960 106.2 960Z"/>
<path fill="#1A9AFF" d="M106.2 932 127 932 130 948.8 135.9 958.6 135.7 960 106.2 960Z"/>
<path fill="#2B7FF0" d="M106.2 932 124 932 127 948.8 132.9 958.6 132.8 960 106.2 960Z"/>
<path fill="#4169E1" d="M106.2 932 124 932 124 948.8 129 958.6 128.8 960 106.2 960Z"/>
<path fill="#FFEC64" d="M113.7 960 123 960 123 967.7 147.7 975.5 148.8 985.8 150.3 996.1 152.9 1006.4 158.1 1016.8 163.2 1027.1 123 1037.4 123 1041 123 1047.7 123 1052.9 123 1060 113.7 1060Z"/>
<path fill="#FFFDC8" d="M113.7 960 151.3 960 144.1 967.7 144.1 975.5 145.7 985.8 146.7 996.1 149.8 1006.4 153.9 1016.8 159.1 1027.1 167.9 1037.4 168.9 1041 170.4 1047.7 123 1052.9 123 1060 113.7 1060Z"/>
<path fill="#A3D5F0" d="M113.7 960 139.5 960 137.9 967.7 141.5 975.5 144.6 985.8 145.2 996.1 146.7 1006.4 150.8 1016.8 156 1027.1 163.2 1037.4 163.7 1041 150.8 1047.7 160.1 1052.9 123 1060 113.7 1060Z"/>
<path fill="#5EC4F2" d="M113.7 960 135.9 960 134.3 967.7 139 975.5 143.6 985.8 143.6 996.1 144.6 1006.4 147.7 1016.8 153.9 1027.1 160.1 1037.4 161.2 1041 147.7 1047.7 155 1052.9 180.8 1060 113.7 1060Z"/>
<path fill="#00BFFF" d="M113.7 960 132.8 960 132.3 967.7 135.9 975.5 141 985.8 141.5 996.1 144.6 1006.4 147.7 1016.8 151.9 1027.1 156 1037.4 157.5 1041 145.7 1047.7 149.8 1052.9 149.8 1060 113.7 1060Z"/>
<path fill="#1A9AFF" d="M113.7 960 129.2 960 129.7 967.7 131.7 975.5 138.4 985.8 139 996.1 142.6 1006.4 144.6 1016.8 148.8 1027.1 151.3 1037.4 152.9 1041 142.1 1047.7 144.6 1052.9 123 1060 113.7 1060Z"/>
<path fill="#2B7FF0" d="M113.7 960 127.1 960 127.1 967.7 129.2 975.5 135.9 985.8 135.4 996.1 139.5 1006.4 141.5 1016.8 145.7 1027.1 147.2 1037.4 148.3 1041 136.9 1047.7 139.5 1052.9 123 1060 113.7 1060Z"/>
<path fill="#4169E1" d="M113.7 960 123 960 123 967.7 127.1 975.5 131.7 985.8 129.2 996.1 136.9 1006.4 138.4 1016.8 142.1 1027.1 142.1 1037.4 143.6 1041 130.7 1047.7 134.3 1052.9 123 1060 113.7 1060Z"/>
<path fill="#1A28F0" d="M113.7 960 123 960 123 967.7 123 975.5 127.1 985.8 127.1 996.1 132.8 1006.4 134.3 1016.8 137.4 1027.1 137.4 1037.4 137.9 1041 127.1 1047.7 123 1052.9 123 1060 113.7 1060Z"/>
<path fill="#300DF5" d="M113.7 960 123 960 123 967.7 123 975.5 123 985.8 123 996.1 123 1006.4 123 1016.8 131.7 1027.1 123 1037.4 123 1041 123 1047.7 123 1052.9 123 1060 113.7 1060Z"/>
<path fill="#A3D5F0" d="M109.9 1030 162.1 1030 159.3 1040.6 150.8 1046.9 155.8 1051.2 173.4 1054 122.6 1058.2 122.6 1063.2 122.6 1068.1 122.6 1079.4 122.6 1086.5 122.6 1097 122.6 1107.6 122.6 1114.7 122.6 1121.7 122.6 1130 122.6 1145 109.9 1145Z"/>
<path fill="#5EC4F2" d="M109.9 1030 159.3 1030 157.2 1040.6 148.7 1046.9 150.8 1051.2 152.2 1054 166.3 1058.2 169.9 1063.2 145.2 1068.1 163.5 1079.4 166.3 1086.5 122.6 1097 122.6 1107.6 122.6 1114.7 122.6 1121.7 122.6 1130 122.6 1145 109.9 1145Z"/>
<path fill="#00BFFF" d="M109.9 1030 154.3 1030 155.1 1040.6 146.6 1046.9 147.3 1051.2 148 1054 155.8 1058.2 155.8 1063.2 141.6 1068.1 159.3 1079.4 159.3 1086.5 157.2 1097 162.1 1107.6 166.3 1114.7 122.6 1121.7 122.6 1130 122.6 1145 109.9 1145Z"/>
<path fill="#1A9AFF" d="M109.9 1030 148.7 1030 152.2 1040.6 142.3 1046.9 145.2 1051.2 145.2 1054 127.2 1058.2 127.2 1063.2 138.1 1068.1 153.6 1079.4 154.3 1086.5 152.2 1097 152.2 1107.6 155.8 1114.7 145.2 1121.7 145.2 1130 122.6 1145 109.9 1145Z"/>
<path fill="#2B7FF0" d="M109.9 1030 143.1 1030 146.6 1040.6 136.7 1046.9 139.5 1051.2 140.2 1054 122.6 1058.2 122.6 1063.2 131.1 1068.1 145.2 1079.4 147.3 1086.5 147.3 1097 146.6 1107.6 148.7 1114.7 138.1 1121.7 138.1 1130 141.6 1145 109.9 1145Z"/>
<path fill="#4169E1" d="M109.9 1030 138.1 1030 141.6 1040.6 130.4 1046.9 131.1 1051.2 131.1 1054 122.6 1058.2 122.6 1063.2 128.2 1068.1 140.2 1079.4 140.9 1086.5 141.6 1097 141.6 1107.6 141.6 1114.7 127.2 1121.7 127.2 1130 131.1 1145 109.9 1145Z"/>
<path fill="#1A28F0" d="M109.9 1030 132.5 1030 135.3 1040.6 127.2 1046.9 127.2 1051.2 127.2 1054 122.6 1058.2 122.6 1063.2 122.6 1068.1 136 1079.4 127.2 1086.5 136 1097 136.7 1107.6 138.1 1114.7 122.6 1121.7 122.6 1130 122.6 1145 109.9 1145Z"/>
<path fill="#300DF5" d="M109.9 1030 122.6 1030 122.6 1040.6 122.6 1046.9 122.6 1051.2 122.6 1054 122.6 1058.2 122.6 1063.2 122.6 1068.1 131.1 1079.4 122.6 1086.5 131.1 1097 122.6 1107.6 122.6 1114.7 122.6 1121.7 122.6 1130 122.6 1145 109.9 1145Z"/>
<path fill="#1A9AFF" d="M116.2 1145.1 158.1 1147 200 1150.8 177.2 1154.7 116.2 1155.6Z"/>
<path fill="#00BFFF" d="M131.4 1148.9 167.6 1149.9 177.2 1151.2 167.6 1152.8 131.4 1153.1Z"/>
<path fill="#5EC4F2" d="M131.4 1155.6 177.2 1156.6 205.7 1161.3 177.2 1164.2 131.4 1164.2Z"/>
<path fill="#A3D5F0" d="M165.7 1160 175.3 1159.6 179.1 1160.9 171.4 1161.9Z"/>
<path fill="#2B7FF0" d="M116.2 1165.1 139.1 1166.1 158.1 1171.8 177.2 1175.6 192.4 1189 158.1 1191.8 116.2 1192.8Z"/>
<path fill="#4169E1" d="M116.2 1166.1 135.2 1167 152.4 1173.7 148.6 1181.3 135.2 1187.1 116.2 1188Z"/>
<path fill="#1A28F0" d="M116.2 1168 131.4 1168.9 148.6 1179.4 135.2 1185.1 116.2 1186.1Z"/>
<path fill="#300DF5" d="M116.2 1170.9 127.6 1171.8 137.1 1177.5 127.6 1183.2 116.2 1183.6Z"/>
<path fill="#1A9AFF" d="M127.6 1194.7 148.6 1193.7 161.9 1197.5 142.9 1200.4 127.6 1200Z"/>
<path fill="#1A28F0" d="M553.9 1096.2 557.7 1083.1 576.4 1077.5 604.4 1071.9 645.6 1070 645.6 1158.8 623.1 1158.8 621.3 1150.4 623.1 1141.1 604.4 1139.2 593.2 1135.5 593.2 1129.9 611.9 1124.2 615.6 1113 604.4 1111.2 585.7 1105.5 567 1099.9Z"/>
<path fill="#1A28F0" d="M546.4 1123.3 557.7 1120.9 583.9 1123.3 567 1126.5 552.1 1125.7Z"/>
<path fill="#1A28F0" d="M100 1214.4 300 1214.4 360 1213 460 1206.5 510.9 1200.9 548.3 1198.1 537.1 1187.8 567 1182.2 585.7 1181.3 604.4 1177.5 645.6 1171 645.6 1243.9 100 1300Z"/>
<path fill="#300DF5" d="M110 1217.6 650 1217.6 650 1230 110 1230Z"/>
<path fill="#8A1FEB" d="M110 1220.8 650 1220.8 650 1230 110 1230Z"/>
</g>
<rect x="125.4" y="930.8" width="514.7" height="294.4" fill="none" stroke="#000" stroke-width="3.4" stroke-linejoin="round"/>
<path d="M125.4 1225.2V1235.8M255.3 1225.2V1235.8M385.3 1225.2V1235.8M515.3 1225.2V1235.8M640.1 1225.2V1235.8M125.4 930.8H114.8M125.4 1004.4H114.8M125.4 1078.0H114.8M125.4 1151.6H114.8M125.4 1225.2H114.8" stroke="#000" stroke-width="3.4" stroke-linecap="round" fill="none"/>
<text x="125.4" y="1324.1" text-anchor="middle" class="tl" transform="matrix(1 0 0 1.03 0 -39.08)">0</text>
<text x="255.3" y="1324.1" text-anchor="middle" class="tl" transform="matrix(1 0 0 1.03 0 -39.08)">100</text>
<text x="385.3" y="1324.1" text-anchor="middle" class="tl" transform="matrix(1 0 0 1.03 0 -39.08)">200</text>
<text x="515.3" y="1324.1" text-anchor="middle" class="tl" transform="matrix(1 0 0 1.03 0 -39.08)">300</text>
<text x="640.1" y="1324.1" text-anchor="middle" class="tl" transform="matrix(1 0 0 1.03 0 -39.08)">400</text>
<text x="73.1" y="952.4" text-anchor="end" class="tl" transform="matrix(1 0 0 1.03 0 -27.92)">96</text>
<text x="73.1" y="1026.0" text-anchor="end" class="tl" transform="matrix(1 0 0 1.03 0 -30.13)">72</text>
<text x="73.1" y="1099.6" text-anchor="end" class="tl" transform="matrix(1 0 0 1.03 0 -32.34)">48</text>
<text x="73.1" y="1173.2" text-anchor="end" class="tl" transform="matrix(1 0 0 1.03 0 -34.55)">24</text>
<text x="73.1" y="1246.8" text-anchor="end" class="tl" transform="matrix(1 0 0 1.03 0 -36.76)">0</text>
<rect x="574.3" y="938.2" width="58.1" height="53.9" fill="#fff" stroke="#000" stroke-width="2.8" stroke-linejoin="round"/>
<text x="596.7" y="973.8" class="lab">E</text>
<clipPath id="cF"><rect x="846.0" y="930.8" width="514.7" height="294.4"/></clipPath>
<g clip-path="url(#cF)">
<rect x="846.0" y="930.8" width="514.7" height="294.4" fill="#4169E1"/>
<path fill="#2B7FF0" d="M836.2 922.2 1365.6 922.3 1365.6 985.8 1302 994.3 1268.3 994.3 1253.4 1002.7 1236.5 1013.9 1264.6 1024.2 1287 1027 1319.7 1032.6 1316.9 1040.1 1283.3 1044.8 1249.6 1051.3 1230.9 1055 1216 1060.7 1193.5 1071.9 1178.5 1077.5 1174.8 1086.8 1165.5 1094.3 1178.5 1103.7 1152.4 1114.9 1133.7 1124.2 1118.7 1135.5 1105.6 1142.9 1124.3 1150.4 1124.3 1159.8 1111.2 1169.1 1100 1186 1087.7 1192.8 1049.6 1202.3 992.4 1206.1 916.2 1207.6 836.2 1208Z"/>
<path fill="#1A9AFF" d="M836.2 922.2 1365.6 922.3 1365.6 943.8 1353.4 939.1 1302 939.1 1242.1 939.5 1227.2 941.9 1212.2 940 1204.7 941.9 1186 943.8 1171.1 940 1152.4 940 1144.9 943.8 1124.3 948.4 1137.4 952.2 1148.6 959.7 1159.8 967.1 1137.4 970.9 1111.2 975.6 1095.3 978.4 1100 979.3 1109.4 984 1115 995.2 1137.4 998.9 1144.9 1004.5 1147.7 1013.9 1131.8 1022.3 1148.6 1027 1152.4 1032.6 1148.6 1040.1 1137.4 1045.7 1128.1 1053.2 1111.2 1064.4 1103.7 1068.1 1100 1075.6 1087.7 1084.2 1068.7 1101.3 1055.3 1114.6 1043.9 1135.6 1034.4 1150.8 1034.4 1173.7 1019.1 1179.4 1043.9 1187.1 1021 1192.8 992.4 1196.6 954.3 1194.7 925.7 1189 897.2 1187.1 859.1 1185.1 836.2 1184.2Z"/>
<path fill="#00BFFF" d="M836.2 922.2 1080.1 922.2 1064.8 947 1082 958.4 1049.6 967.9 1049.6 981.3 1047.7 992.7 1057.2 1002.2 1082 1013.7 1087.7 1032.7 1068.7 1044.1 1049.6 1059.4 1040.1 1074.6 1021 1088 1009.6 1101.3 1007.7 1112.7 1007.7 1124.2 981 1135.6 979.1 1150.8 963.9 1169.9 954.3 1175.6 935.3 1179.4 897.2 1179.4 859.1 1181.3 836.2 1181.3Z"/>
<path fill="#5EC4F2" d="M836.2 922.2 1038.2 922.2 1038.2 948.9 1022.9 954.6 1011.5 962.2 1007.7 975.5 1005.8 992.7 1021 1006 1040.1 1013.7 1053.4 1023.2 1049.6 1036.5 1030.5 1044.1 1011.5 1049.9 998.2 1059.4 996.2 1070.8 981 1082.2 973.4 1088 986.7 1095.6 969.6 1101.3 954.3 1114.6 973.4 1120.4 988.6 1124.2 973.4 1128 950.5 1129.9 942.9 1139.4 952.4 1160.4 946.7 1164.2 925.7 1169.9 916.2 1173.7 878.1 1173.7 859.1 1177.5 836.2 1177.5Z"/>
<path fill="#A3D5F0" d="M836.2 922.2 1007.7 922.2 1007.7 939.3 998.2 947 977.2 958.4 984.8 967 971.5 975.5 981 987 982.9 1002.2 1005.8 1017.5 1021 1025.1 1024.8 1032.7 1007.7 1040.3 992.4 1051.8 973.4 1057.5 958.1 1063.2 948.6 1072.7 948.6 1084.2 958.1 1091.8 962 1097.5 931.5 1104.2 916.2 1106.1 897.2 1105.1 878.1 1101.3 870.5 1093.7 868.6 1082.2 836.2 1082.2Z"/>
<path fill="#FFFDC8" d="M843.7 926.7 987.1 926.7 987.1 939.2 975.9 944.8 964.6 950.5 947.6 960.6 938.6 967.4 936.3 976.4 942 985.5 947.6 994.5 958.9 1002.4 970.2 1008 981.5 1013.7 983.8 1022.7 992.8 1027.2 1006 1031.8 998.4 1035.1 981.5 1041.9 970.2 1046.4 958.9 1051 947.6 1058.9 939.7 1066.8 928.4 1079.2 929.6 1089.3 938.6 1096.1 919.4 1098.4 891.2 1098.4 879.9 1096.1 883.3 1089.3 879.9 1084.8 874.2 1081.4 866.3 1072.4 864.1 1058.9 865.2 1047.6 866.3 1036.3 865.2 1025 864.1 1013.7 862.9 1002.4 861.8 991.1 859.6 979.8 858.4 968.5 856.2 959.5 853.9 951.6 852.8 926.7Z"/>
<path fill="#FFEC64" d="M857.3 926.7 970.2 926.7 970.2 940.3 958.9 948.2 947.6 955 936.3 958.4 928.4 965.1 925 974.2 926.2 985.5 938.6 994.5 947.6 1002.4 958.9 1010.3 964.6 1017.1 975.9 1025 980.4 1031.8 970.2 1035.1 954.4 1038.5 945.4 1045.3 940.9 1055.5 927.3 1063.4 916 1069 913.8 1075.8 909.2 1082.6 913.8 1087.1 900.2 1089.3 891.2 1087.1 883.3 1082.6 877.6 1080.3 874.2 1075.8 870.8 1070.1 868.6 1058.9 869.7 1047.6 870.8 1036.3 869.7 1025 868.6 1013.7 865.2 1002.4 864.1 991.1 862.9 979.8 861.8 968.5 858.4 960.6 856.2 951.6Z"/>
<path fill="#FFCF2A" d="M859.6 926.7 960 926.7 958.9 940.3 947.6 947.1 939.7 952.7 919.4 958.4 913.8 962.9 920.5 967.4 909.2 976.4 908.1 985.5 925 992.2 936.3 1001.3 947.6 1012.6 958.9 1021.6 964.6 1030.6 952.1 1034 936.3 1040.8 929.6 1041.9 928.4 1048.7 916 1054.3 907 1069 888.9 1074.7 882.1 1076.9 877.6 1071.3 875.4 1062.2 876.5 1053.2 874.2 1041.9 873.1 1030.6 870.8 1019.3 869.7 1008 868.6 996.8 867.5 985.5 865.2 974.2 862.9 962.9 859.6 957.2 857.3 951.6Z"/>
<path fill="#FFAA00" d="M862.9 926.7 943.1 926.7 943.1 940.3 936.3 949.3 923.9 956.1 919.4 960.6 911.5 964 900.2 976.4 886.7 985.5 883.3 987.7 896.8 987.7 916 994.5 923.9 996.8 931.8 1008 939.7 1021.6 952.1 1030.6 943.1 1032.9 929.6 1037.4 913.8 1041.9 902.5 1048.7 904.7 1058.9 894.6 1062.2 883.3 1061.1 879.9 1053.2 879.9 1044.2 875.4 1030.6 875.4 1019.3 873.1 1008 872 996.8 873.1 990 869.7 979.8 868.6 969.7 864.1 960.6 858.4 951.6Z"/>
<path fill="#FF8000" d="M867.5 926.7 932.9 926.7 934.1 939.7 925 948.2 909.2 953.8 901.3 965.1 896.8 968.5 887.8 978.7 879.9 976.4 872 966.3 879.9 956.1 872 949.3 864.1 947.1 862.9 940.3Z"/>
<path fill="#FF8000" d="M876.5 996.8 881 992.2 896.8 990 909.2 996.8 916 999 922.8 1002.4 928.4 1013.7 929.6 1030.6 919.4 1032.9 905.8 1037.4 894.6 1041.9 891.2 1043 884.4 1037.4 878.7 1028.4 876.5 1014.8 875.4 1003.5Z"/>
<path fill="#FF4A00" d="M869.7 926.7 909.2 926.7 923.9 939.2 913.8 945.9 896.8 950.5 883.3 950.5 872 947.1 866.3 942.6 865.2 939.2Z"/>
<path fill="#FF4A00" d="M876.5 967.4 882.1 964.6 888.9 965.1 890 968.5 885.5 971.9 878.7 969.7Z"/>
<path fill="#FF4A00" d="M881 995.6 885.5 992.2 894.6 993.4 904.7 1001.3 913.8 1003.5 916 1014.8 914.9 1025 902.5 1027.2 890 1032.9 884.4 1027.2 881 1017.1 883.3 1008 881 1001.3Z"/>
<path fill="#FF0000" d="M872 926.7 902.5 926.7 911.5 938 904.7 945.4 888.9 948.8 875.4 947.1 868.6 942.6 866.9 938.6Z"/>
<path fill="#FF0000" d="M886.7 1012.6 893.4 1009.2 902.5 1011.4 905.8 1020.5 899.1 1023.9 887.2 1023.9Z"/>
<path fill="#D70000" d="M875.4 926.7 897.9 926.7 905.8 937.5 901.3 944.2 886.7 947.1 873.1 944.8 868.6 938.6Z"/>
<path fill="#D83232" d="M877.6 926.7 893.4 926.7 902.5 937.5 897.9 943.1 885.5 945.4 874.2 943.7 870.8 939.2Z"/>
<path fill="#FFB3B3" d="M873.1 939.2 879.9 934.6 891.2 934.1 899.1 938.6 893.4 942.6 882.1 943.7 874.2 942Z"/>
<path fill="#A3D5F0" d="M823.4 932.4 853.9 932.4 855.2 940 823.4 940Z"/>
<path fill="#5EC4F2" d="M823.4 932.4 851.6 932.4 853 940 823.4 940Z"/>
<path fill="#00BFFF" d="M823.4 932.4 849.4 932.4 850.7 940 823.4 940Z"/>
<path fill="#1A9AFF" d="M823.4 932.4 848 932.4 849 940 823.4 940Z"/>
<path fill="#FFAA00" d="M833.7 940 867.2 940 871.9 947.7 884.8 958.1 875 968.4 880.1 976.1 880.1 986.4 881.2 994.2 877 1004 883.2 1013.3 883.2 1022.6 881.2 1032.9 882.2 1040 833.7 1040Z"/>
<path fill="#FFCF2A" d="M833.7 940 864.6 940 868.8 947.7 873.9 958.1 871.9 968.4 876 976.1 876 986.4 876 994.2 872.9 1004 877 1013.3 877.5 1022.6 877.5 1032.9 879.1 1040 833.7 1040Z"/>
<path fill="#FFEC64" d="M833.7 940 861 940 864.6 947.7 869.8 958.1 868.8 968.4 872.9 976.1 871.9 986.4 871.3 994.2 869.8 1004 873.9 1013.3 873.9 1022.6 875 1032.9 876 1040 833.7 1040Z"/>
<path fill="#FFFDC8" d="M833.7 940 857.4 940 861 947.7 866.2 958.1 867.2 968.4 867.2 976.1 869.3 986.4 869.3 994.2 866.7 1004 871.9 1013.3 870.8 1022.6 871.3 1032.9 872.4 1040 833.7 1040Z"/>
<path fill="#A3D5F0" d="M833.7 940 854.3 940 855.4 947.7 862.6 958.1 863.1 968.4 861.5 976.1 866.7 986.4 867.2 994.2 864.6 1004 870.3 1013.3 868.3 1022.6 868.3 1032.9 869.3 1040 833.7 1040Z"/>
<path fill="#5EC4F2" d="M833.7 940 852.8 940 854.8 947.7 861 958.1 862.6 968.4 860.5 976.1 865.7 986.4 866.7 994.2 863.9 1004 869.5 1013.3 867.2 1022.6 867 1032.9 868 1040 833.7 1040Z"/>
<path fill="#00BFFF" d="M833.7 940 851.2 940 854.3 947.7 858.4 958.1 861 968.4 859 976.1 864.6 986.4 865.7 994.2 863.1 1004 868.8 1013.3 866.2 1022.6 865.7 1032.9 866.7 1040 833.7 1040Z"/>
<path fill="#1A9AFF" d="M833.7 940 847.1 940 850.7 947.7 853.8 958.1 857.4 968.4 856.9 976.1 861 986.4 864.1 994.2 861 1004 866.7 1013.3 863.6 1022.6 863.6 1032.9 863.6 1040 833.7 1040Z"/>
<path fill="#2B7FF0" d="M833.7 940 843 940 847.1 947.7 849.2 958.1 854.3 968.4 852.3 976.1 855.4 986.4 861 994.2 856.9 1004 863.6 1013.3 857.9 1022.6 857.9 1032.9 856.9 1040 833.7 1040Z"/>
<path fill="#4169E1" d="M833.7 940 843 940 843 947.7 847.1 958.1 847.1 968.4 847.1 976.1 849.2 986.4 855.9 994.2 847.1 1004 859.5 1013.3 851.7 1022.6 847.1 1032.9 847.1 1040 833.7 1040Z"/>
<path fill="#1A28F0" d="M833.7 940 843 940 843 947.7 843 958.1 843 968.4 843 976.1 843 986.4 850.7 994.2 843 1004 853.3 1013.3 848.1 1022.6 843 1032.9 843 1040 833.7 1040Z"/>
<path fill="#00BFFF" d="M824.8 1040 865.1 1040 863.2 1059.2 868 1078.4 870.9 1088 871.8 1097.6 875.7 1107.2 884.3 1121.6 870.9 1131.2 882.4 1136 892 1141.7 884.3 1147.5 858.4 1153.2 842.1 1157.1 824.8 1157.1Z"/>
<path fill="#1A9AFF" d="M824.8 1040 860.3 1040 858.4 1059.2 863.2 1078.4 866.1 1088 866.1 1097.6 869 1107.2 878.5 1121.6 863.2 1131.2 872.8 1136 884.3 1141.7 877.6 1147.5 853.6 1153.2 842.1 1157.1 824.8 1157.1Z"/>
<path fill="#2B7FF0" d="M824.8 1040 856.5 1040 854.6 1059.2 859.4 1078.4 861.3 1088 861.3 1097.6 862.2 1107.2 870.9 1121.6 853.6 1131.2 858.4 1136 874.7 1141.7 868 1147.5 849.8 1153.2 842.1 1157.1 824.8 1157.1Z"/>
<path fill="#4169E1" d="M824.8 1040 842.1 1040 847.8 1059.2 854.6 1078.4 856.5 1088 856.5 1097.6 855.5 1107.2 863.2 1121.6 847.8 1131.2 853.6 1136 868 1141.7 858.4 1147.5 842.1 1153.2 842.1 1157.1 824.8 1157.1Z"/>
<path fill="#1A28F0" d="M824.8 1040 842.1 1040 842.1 1059.2 849.8 1078.4 850.7 1088 852.6 1097.6 849.8 1107.2 847.8 1121.6 842.1 1131.2 842.1 1136 858.4 1141.7 847.8 1147.5 842.1 1153.2 842.1 1157.1 824.8 1157.1Z"/>
<path fill="#300DF5" d="M843.7 1011.4 849.4 1012.6 850.5 1014.3 848.8 1016.5 843.7 1017.1Z"/>
<path fill="#300DF5" d="M842.1 1094.7 849.8 1096.6 853.6 1102.4 849.8 1109.1 842.1 1110.1Z"/>
<path fill="#300DF5" d="M842.1 1138.8 853.6 1140.3 858.4 1142.2 853.6 1144.6 842.1 1145.6Z"/>
<path fill="#A3D5F0" d="M893.4 1114.6 901 1110.8 905.7 1114.6 899.1 1118.5Z"/>
<path fill="#A3D5F0" d="M870.5 1132.7 887.6 1130.8 893.4 1132.7 885.7 1134.7Z"/>
<path fill="#A3D5F0" d="M848.6 1162.3 859.1 1157.5 876.2 1159.4 885.7 1154.7 897.2 1147 910.5 1148 913.4 1152.8 902.9 1157.5 885.7 1158.9 870.5 1166.5 859.1 1173.7 848.6 1172.2Z"/>
<path fill="#FFFDC8" d="M850.5 1161.3 866.7 1159.4 872.4 1161.3 859.1 1168.9 850.5 1166.5Z"/>
<path fill="#FFEC64" d="M856.2 1161.9 861.9 1160.8 863.8 1162.3 859.1 1163.4Z"/>
<path fill="#FFFDC8" d="M891.4 1151.8 897.2 1150.5 901.9 1151.8 896.2 1153.1Z"/>
<path fill="#4169E1" d="M836.2 1185.1 868.6 1186.1 878.1 1189.9 872.4 1196.6 859.1 1200.4 836.2 1200.4Z"/>
<path fill="#1A28F0" d="M836.2 1186.7 864.8 1187.4 874.3 1190.9 866.7 1196.6 836.2 1198.9Z"/>
<path fill="#300DF5" d="M836.2 1188.6 855.2 1189.9 861 1192.8 853.3 1196.6 836.2 1197.3Z"/>
<path fill="#1A9AFF" d="M849.5 1204.6 868.6 1205.2 880 1206.1 868.6 1207.2 849.5 1207.2Z"/>
<path fill="#1A28F0" d="M836.2 1214.1 1110 1213.3 1100 1214.9 1156.1 1211.2 1208.5 1205.6 1249.6 1195.3 1305.7 1185 1365.6 1181.3 1365.6 1243.9 836.2 1249.9Z"/>
<path fill="#1A28F0" d="M1333.8 1096.2 1359 1084 1365.6 1084 1365.6 1098.1 1343.1 1098.1Z"/>
<path fill="#300DF5" d="M830 1217.2 1370 1217.2 1370 1230 830 1230Z"/>
<path fill="#8A1FEB" d="M830 1220.4 1370 1220.4 1370 1230 830 1230Z"/>
</g>
<rect x="846.0" y="930.8" width="514.7" height="294.4" fill="none" stroke="#000" stroke-width="3.4" stroke-linejoin="round"/>
<path d="M846.0 1225.2V1235.8M975.9 1225.2V1235.8M1105.9 1225.2V1235.8M1235.9 1225.2V1235.8M1360.7 1225.2V1235.8M846.0 930.8H835.4M846.0 1004.4H835.4M846.0 1078.0H835.4M846.0 1151.6H835.4M846.0 1225.2H835.4" stroke="#000" stroke-width="3.4" stroke-linecap="round" fill="none"/>
<text x="846.0" y="1324.1" text-anchor="middle" class="tl" transform="matrix(1 0 0 1.03 0 -39.08)">0</text>
<text x="975.9" y="1324.1" text-anchor="middle" class="tl" transform="matrix(1 0 0 1.03 0 -39.08)">100</text>
<text x="1105.9" y="1324.1" text-anchor="middle" class="tl" transform="matrix(1 0 0 1.03 0 -39.08)">200</text>
<text x="1235.9" y="1324.1" text-anchor="middle" class="tl" transform="matrix(1 0 0 1.03 0 -39.08)">300</text>
<text x="1360.7" y="1324.1" text-anchor="middle" class="tl" transform="matrix(1 0 0 1.03 0 -39.08)">400</text>
<text x="793.7" y="952.4" text-anchor="end" class="tl" transform="matrix(1 0 0 1.03 0 -27.92)">96</text>
<text x="793.7" y="1026.0" text-anchor="end" class="tl" transform="matrix(1 0 0 1.03 0 -30.13)">72</text>
<text x="793.7" y="1099.6" text-anchor="end" class="tl" transform="matrix(1 0 0 1.03 0 -32.34)">48</text>
<text x="793.7" y="1173.2" text-anchor="end" class="tl" transform="matrix(1 0 0 1.03 0 -34.55)">24</text>
<text x="793.7" y="1246.8" text-anchor="end" class="tl" transform="matrix(1 0 0 1.03 0 -36.76)">0</text>
<rect x="1304.0" y="938.2" width="49.0" height="53.9" fill="#fff" stroke="#000" stroke-width="2.8" stroke-linejoin="round"/>
<text x="1322.9" y="965.7" class="lab">F</text>
<clipPath id="cG"><rect x="485.7" y="1381.6" width="514.7" height="294.4"/></clipPath>
<g clip-path="url(#cG)">
<rect x="485.7" y="1381.6" width="514.7" height="294.4" fill="#4169E1"/>
<path fill="#2B7FF0" d="M476.2 1373.2 1005.6 1373.3 1005.6 1438.7 932.6 1444.3 913.9 1446.2 908.3 1453.7 889.6 1464 908.3 1472.4 927 1478.9 949.5 1482.7 942 1489.2 927 1495.2 912.1 1492 893.4 1500.4 880.3 1507 867.2 1517.3 859.7 1528.5 848.5 1531.3 829.8 1536 818.5 1546.3 829.8 1555.6 822.3 1564 796.1 1573.4 786.8 1582.7 766.2 1588.3 751.2 1593.9 777.4 1608.9 783 1620.1 771.8 1628.5 758.7 1630.4 745.6 1629.5 743.7 1638.8 740 1640.7 727.7 1647.6 689.6 1651.4 632.4 1654.8 556.2 1655.6 499.1 1656.7 476.2 1657.1Z"/>
<path fill="#1A9AFF" d="M476.2 1373.2 1005.6 1373.3 1005.6 1403.2 993.4 1401.3 932.6 1398.5 908.3 1397.6 885.9 1395.7 867.2 1398.5 852.2 1396.6 814.8 1399.4 837.3 1412.5 856 1417.2 837.3 1420.9 824.2 1421.9 818.5 1419.1 814.8 1427.5 777.4 1428.4 749.4 1436.8 760.6 1442.5 769.9 1455.5 788.6 1473.3 773.7 1482.7 794.2 1491.1 790.5 1502.3 779.3 1511.7 766.2 1519.1 762.4 1528.5 740 1536 727.7 1537.1 708.7 1554.2 701 1575.2 708.7 1582.8 695.3 1601.8 702.9 1611.4 672.5 1620.9 683.9 1630.4 680.1 1638.1 651.5 1645.7 613.4 1649.9 556.2 1646.6 518.1 1643.8 499.1 1640.9 476.2 1639Z"/>
<path fill="#00BFFF" d="M476.2 1373.2 762.4 1373.3 758.7 1383.5 740 1389.2 735.3 1392.2 723.9 1405.6 716.3 1415.1 695.3 1426.5 695.3 1443.7 699.1 1458.9 718.2 1476.1 735.3 1491.3 718.2 1502.8 689.6 1521.8 670.5 1535.2 651.5 1550.4 647.7 1575.2 659.1 1592.3 651.5 1605.7 645.8 1617.1 643.9 1624.7 622.9 1626.6 603.9 1624.7 575.3 1626.6 546.7 1624.7 527.6 1623.8 508.6 1622.8 476.2 1621.9Z"/>
<path fill="#5EC4F2" d="M476.2 1373.2 699.1 1373.2 699.1 1382.7 680.1 1399.9 678.2 1407.5 659.1 1417 657.2 1426.5 661 1436.1 647.7 1445.6 661 1457 670.5 1472.3 670.5 1479.9 682 1491.3 661 1499 651.5 1510.4 655.3 1519.9 640.1 1527.5 628.6 1529.4 624.8 1537.1 602 1544.7 594.3 1556.1 609.6 1559.9 605.8 1573.3 617.2 1590.4 619.1 1601.8 605.8 1613.3 586.7 1617.1 571.5 1622.8 552.4 1620.9 527.6 1618 514.3 1615.2 476.2 1614.2Z"/>
<path fill="#A3D5F0" d="M476.2 1373.2 668.6 1373.2 668.6 1390.3 659.1 1396.1 647.7 1401.8 632.4 1405.6 621 1409.4 632.4 1418 622.9 1426.5 634.3 1436.1 617.2 1445.6 615.3 1453.2 632.4 1460.8 642 1472.3 642 1483.7 643.9 1491.3 636.2 1499 630.5 1510.4 624.8 1516.1 609.6 1521.8 594.3 1527.5 588.6 1537.1 588.6 1546.6 569.6 1552.3 556.2 1554.2 539.1 1557.1 560 1563.7 558.1 1567.5 571.5 1577.1 579.1 1582.8 594.3 1590.4 596.2 1601.8 586.7 1605.7 565.7 1607.6 542.9 1611.4 525.7 1610.4 476.2 1610.4Z"/>
<path fill="#FFFDC8" d="M476.2 1373.2 626.7 1373.2 628.6 1384.6 638.2 1396.1 624.8 1398.9 625 1403.7 613.5 1405.7 605.6 1409.6 597.6 1418.5 599.6 1427.4 589.7 1453.1 603.6 1465 603.6 1473.9 610.5 1486.7 620.4 1491.7 621.4 1500.6 613.5 1508.5 603.6 1516.4 588.8 1523.3 573.9 1528.2 556.2 1535.2 544.8 1537.4 556.2 1540.9 567.7 1546.6 556.2 1551.4 533.4 1552.7 521.9 1549.4 514.3 1540.9 508.6 1529.4 509.7 1524.3 506.7 1516.4 502.8 1508.5 498.8 1496.6 495.9 1488.7 494.9 1478.8 492.9 1468.9 491.9 1459.1 494.9 1453.1 492.9 1444.2 490.9 1435.3 491.9 1427.4 490.9 1421.5 493.9 1414.6 491.9 1407.7 489 1402.7 487.2 1399.8 483 1398.8Z"/>
<path fill="#FFFDC8" d="M526.7 1601.8 529.5 1594.2 542.9 1584.7 552.4 1580.9 561.9 1581.8 573.4 1592.3 567.7 1599.9 560 1603.8 542.9 1605.7 529.5 1605.7Z"/>
<path fill="#FFEC64" d="M476.2 1373.2 611.5 1373.2 619.3 1398.7 603.6 1403.7 583.8 1410.6 569 1417.5 579.9 1435.3 579.9 1439.3 573.9 1455.1 588.8 1464 581.8 1472.9 593.7 1482.8 592.7 1500.6 588.8 1504.5 581.8 1513.4 573.9 1520.3 564.1 1523.3 554.2 1526.2 534.4 1532.2 525.3 1533.3 520.1 1532.8 513.9 1528.7 516 1518.9 516 1511.1 510.8 1500.8 504.6 1492 507.2 1482.7 502.1 1475 496.9 1468.9 496.9 1459.1 499.8 1454.1 497.8 1444.2 496.9 1434.3 494.9 1427.4 495.9 1419.5 497.8 1409.6 494.9 1404.7 490.9 1399.8 487.2 1395.8 483 1394.8Z"/>
<path fill="#FFEC64" d="M525.7 1542.8 541 1540.9 554.3 1543.7 567.7 1546.6 552.4 1548.9 529.5 1549.4Z"/>
<path fill="#FFCF2A" d="M490.9 1378 599.6 1378 600.1 1398.8 583.8 1404.7 569 1409.6 554.2 1412.6 546.3 1417.5 562.1 1426.4 549.2 1433.4 553.2 1437.3 569 1445.2 559.1 1449.2 544.3 1454.1 554.2 1459.1 573.9 1464 565 1472.9 573.9 1483.8 577.9 1500.6 573.9 1504.5 566 1508.5 554.2 1518.3 542.3 1520.3 527.5 1522.3 525.3 1521.5 524.2 1511.1 513.9 1500.8 507.2 1492 509.2 1482.7 505.7 1475 498.8 1468.9 498.8 1462 501.8 1455.1 499.8 1444.2 498.8 1435.3 496.9 1424.5 498.8 1417.5 501.8 1409.6 496.9 1403.7 491.9 1398.8 489 1392.8 488 1387.9Z"/>
<path fill="#FFAA00" d="M494.9 1378 589.7 1378 591.7 1389.9 583.8 1397.8 569 1404.7 554.2 1407.2 544.3 1408.7 540.3 1411.6 538.4 1415.6 543.3 1425.5 544.3 1435.3 546.3 1440.3 553.2 1445.2 545.3 1451.1 544.3 1455.1 552.2 1459.1 554.2 1467 555.2 1478.8 563.1 1490.7 557.1 1496.6 556.1 1504.5 556.1 1515.4 544.3 1516.4 532.4 1517.4 527.9 1516.4 527.9 1511.1 520.1 1500.8 510.3 1492 511.3 1482.7 508.3 1475 501.8 1468.9 502.8 1461 504.8 1455.1 502.8 1449.2 504.8 1441.3 503.8 1434.3 500.8 1424.5 502.8 1414.6 506.7 1407.7 500.8 1401.7 492.9 1395.8 489 1391.9 489.9 1385.9Z"/>
<path fill="#FF8000" d="M499.8 1378 579.9 1378 581.8 1389.9 573.9 1396.8 560.1 1402.7 544.3 1405.7 529.5 1407.2 514.6 1405.7 504.8 1401.7 496.9 1396.8 490.9 1393.8 489 1390.9 496.9 1385.9Z"/>
<path fill="#FF8000" d="M505.8 1435.3 506.7 1421.5 511.7 1411.6 524.5 1410.6 532.4 1413.6 537.4 1421.5 536.4 1429.4 542.3 1439.3 546.3 1445.2 539.3 1449.2 529.5 1451.1 519.6 1450.2 512.7 1447.2 507.7 1441.3Z"/>
<path fill="#FF8000" d="M507.7 1470.9 504.8 1463 514.6 1459.1 534.4 1461 542.3 1466 544.3 1473.9 549.2 1483.8 554.2 1491.7 546.3 1495.6 534.4 1494.6 524.5 1492.6 517.6 1490.7 512.7 1485.7 509.7 1478.8Z"/>
<path fill="#FF8000" d="M528.5 1509.4 534.4 1506 542.3 1505.5 548.2 1509.4 542.3 1512.9 532.4 1512.9Z"/>
<path fill="#FF4A00" d="M504.8 1378 571 1378 572.9 1389.9 564.1 1396.8 549.2 1402.7 529.5 1404.7 514.6 1402.7 504.8 1397.8 495.9 1394.8 491.9 1391.9 499.8 1385.9Z"/>
<path fill="#FF4A00" d="M507.7 1435.3 508.7 1421.5 514.6 1413.6 528.5 1414.6 531.4 1421.5 531.4 1429.4 536.4 1439.3 539.3 1444.2 532.4 1449.2 522.5 1447.2 514.6 1444.2 508.7 1439.3Z"/>
<path fill="#FF4A00" d="M508.7 1470.9 507.7 1464 517.6 1464 522.5 1472.9 532.4 1477.8 536.4 1482.8 530.5 1486.7 522.5 1487.7 517.6 1486.7 512.7 1478.8Z"/>
<path fill="#FF0000" d="M507.7 1378 560.1 1378 567 1389.9 560.1 1394.8 544.3 1400.8 526.5 1401.7 512.7 1398.8 502.8 1393.8 497.8 1391.4 496.9 1389.9 504.8 1384Z"/>
<path fill="#FF0000" d="M509.7 1435.3 512.7 1421.5 517.6 1416.6 528.5 1418 526.5 1426.4 530.5 1435.3 531.4 1445.2 524.5 1445.2 517.6 1443.2 510.7 1440.3Z"/>
<path fill="#FF0000" d="M518.6 1482.3 522.5 1480.3 527.5 1482.3 522.5 1483.8Z"/>
<path fill="#D70000" d="M509.7 1378 552.2 1378 562.1 1389.4 558.1 1393.8 544.3 1398.8 524.5 1399.8 514.6 1396.8 506.7 1392.8 499.8 1390.9 499.8 1389.4 508.7 1383.5Z"/>
<path fill="#D70000" d="M508.7 1435.8 513.7 1431.4 522.5 1430.4 527.5 1433.4 526.5 1438.3 519.6 1440.3 510.7 1438.3Z"/>
<path fill="#D83232" d="M519.6 1378 540.3 1378 554.2 1387.9 556.1 1390.9 546.3 1394.3 532.4 1395.8 522.5 1393.8 517.6 1388.9Z"/>
<path fill="#D83232" d="M514.6 1435.8 518.6 1434.3 522.5 1435.3 519.6 1437.1 514.6 1436.8Z"/>
<path fill="#FFB3B3" d="M526 1385.4 532.4 1384.9 548.2 1389.9 540.3 1392.4 528.5 1392.4 526 1389.9Z"/>
<path fill="#FFAA00" d="M473.7 1385.2 494.3 1385.2 494.8 1390.3 498.4 1395.5 505.7 1400.6 511.9 1408.4 509.8 1416.1 504.6 1426.4 507.7 1436.8 510.8 1447.1 515 1454.8 507.7 1462.6 511.3 1472.9 511.9 1480 473.7 1480Z"/>
<path fill="#FFCF2A" d="M473.7 1385.2 491.7 1385.2 491.7 1390.3 494.3 1395.5 502.6 1400.6 508.8 1408.4 508.3 1416.1 502.1 1426.4 505.7 1436.8 508.3 1447.1 512.9 1454.8 504.6 1462.6 508.8 1472.9 509.8 1480 473.7 1480Z"/>
<path fill="#FFEC64" d="M473.7 1385.2 490.2 1385.2 489.7 1390.3 491.7 1395.5 499 1400.6 505.7 1408.4 505.7 1416.1 499.5 1426.4 503.6 1436.8 505.7 1447.1 508.8 1454.8 502.1 1462.6 506.2 1472.9 506.7 1480 473.7 1480Z"/>
<path fill="#FFFDC8" d="M473.7 1385.2 488.9 1385.2 488.4 1390.3 489.7 1395.5 496.4 1400.6 503.6 1408.4 503.1 1416.1 495.9 1426.4 501 1436.8 503.6 1447.1 506.2 1454.8 499.5 1462.6 504.1 1472.9 504.6 1480 473.7 1480Z"/>
<path fill="#A3D5F0" d="M473.7 1385.2 487.9 1385.2 487.6 1390.3 488.1 1395.5 493.3 1400.6 501 1408.4 500.5 1416.1 492.3 1426.4 499.5 1436.8 502.1 1447.1 504.6 1454.8 497.9 1462.6 502.6 1472.9 503.1 1480 473.7 1480Z"/>
<path fill="#5EC4F2" d="M473.7 1385.2 487.1 1385.2 487.1 1390.3 487.6 1395.5 489.7 1400.6 497.9 1408.4 497.9 1416.1 490.2 1426.4 497.4 1436.8 500.5 1447.1 503.1 1454.8 497.2 1462.6 501 1472.9 501.8 1480 473.7 1480Z"/>
<path fill="#00BFFF" d="M473.7 1385.2 483 1385.2 483 1390.3 487.1 1395.5 487.1 1400.6 494.3 1408.4 494.3 1416.1 488.6 1426.4 494.3 1436.8 497.4 1447.1 502.1 1454.8 496.9 1462.6 500.5 1472.9 501 1480 473.7 1480Z"/>
<path fill="#1A9AFF" d="M473.7 1385.2 483 1385.2 483 1390.3 483 1395.5 483 1400.6 489.7 1408.4 490.7 1416.1 487.1 1426.4 490.2 1436.8 493.3 1447.1 497.4 1454.8 495.9 1462.6 497.4 1472.9 497.4 1480 473.7 1480Z"/>
<path fill="#2B7FF0" d="M473.7 1385.2 483 1385.2 483 1390.3 483 1395.5 483 1400.6 487.1 1408.4 487.1 1416.1 483 1426.4 487.1 1436.8 489.2 1447.1 491.7 1454.8 491.7 1462.6 493.3 1472.9 491.7 1480 473.7 1480Z"/>
<path fill="#4169E1" d="M473.7 1385.2 483 1385.2 483 1390.3 483 1395.5 483 1400.6 483 1408.4 483 1416.1 483 1426.4 483 1436.8 487.1 1447.1 487.1 1454.8 489.2 1462.6 489.7 1472.9 489.2 1480 473.7 1480Z"/>
<path fill="#A3D5F0" d="M473.7 1475 502.7 1475 505.7 1482.7 503.1 1492 508.3 1500.8 512.9 1511.1 512.9 1518.9 508.3 1528.7 517 1536.9 525.3 1547.2 483 1557.6 483 1567.9 483 1575 483 1577.1 483 1590.4 483 1605.7 473.7 1605.7Z"/>
<path fill="#5EC4F2" d="M473.7 1475 501.3 1475 504.6 1482.7 502.1 1492 505.7 1500.8 509.8 1511.1 509.8 1518.9 505.7 1528.7 512.9 1536.9 517 1547.2 521.7 1557.6 522.7 1567.9 524.2 1575 523.8 1577.1 520.1 1590.4 525.7 1605.7 473.7 1605.7Z"/>
<path fill="#00BFFF" d="M473.7 1475 500.7 1475 502.6 1482.7 499.5 1492 500 1500.8 506.2 1511.1 508.3 1518.9 505.7 1528.7 509.8 1536.9 511.3 1547.2 511.9 1557.6 512.9 1567.9 515 1575 512.6 1577.1 512.6 1590.4 518.1 1605.7 473.7 1605.7Z"/>
<path fill="#1A9AFF" d="M473.7 1475 497.4 1475 497.9 1482.7 494.3 1492 494.3 1500.8 498.4 1511.1 504.6 1518.9 503.1 1528.7 505.7 1536.9 508.8 1547.2 506.2 1557.6 506.2 1567.9 506.7 1575 503 1577.1 504.6 1590.4 502.9 1605.7 473.7 1605.7Z"/>
<path fill="#2B7FF0" d="M473.7 1475 493 1475 493.8 1482.7 487.1 1492 487.1 1500.8 494.3 1511.1 501 1518.9 498.4 1528.7 501 1536.9 505.7 1547.2 502.6 1557.6 503.1 1567.9 503.6 1575 494.3 1577.1 503.1 1590.4 494.3 1605.7 473.7 1605.7Z"/>
<path fill="#4169E1" d="M473.7 1475 489.2 1475 486.1 1482.7 483 1492 483 1500.8 487.1 1511.1 496.9 1518.9 494.3 1528.7 497.4 1536.9 502.1 1547.2 497.9 1557.6 494.3 1567.9 487.1 1575 487.2 1577.1 502.1 1590.4 487.2 1605.7 473.7 1605.7Z"/>
<path fill="#1A28F0" d="M473.7 1475 483 1475 483 1482.7 483 1492 483 1500.8 483 1511.1 490.7 1518.9 490.2 1528.7 494.3 1536.9 498.4 1547.2 494.3 1557.6 487.1 1567.9 483 1575 483 1577.1 503 1590.4 483 1605.7 473.7 1605.7Z"/>
<path fill="#300DF5" d="M473.7 1475 483 1475 483 1482.7 483 1492 483 1500.8 483 1511.1 483 1518.9 483 1528.7 490.2 1536.9 491.7 1547.2 490.7 1557.6 483 1567.9 483 1575 483 1577.1 496.9 1590.4 483 1605.7 473.7 1605.7Z"/>
<path fill="#5EC4F2" d="M476.2 1605.7 499.1 1606.6 518.1 1609.9 499.1 1613.3 476.2 1614.2Z"/>
<path fill="#A3D5F0" d="M476.2 1607 497.1 1607.9 512.4 1609.9 497.1 1612.3 476.2 1612.9Z"/>
<path fill="#FFFDC8" d="M476.2 1607.9 491.4 1608.7 502.9 1609.9 491.4 1611.4 476.2 1611.8Z"/>
<path fill="#FFEC64" d="M476.2 1608.7 493.3 1609.9 476.2 1611Z"/>
<path fill="#2B7FF0" d="M476.2 1620.9 495.2 1622.8 506.7 1624.7 491.4 1625.7 476.2 1625.7Z"/>
<path fill="#00BFFF" d="M491.4 1628.9 502.9 1627.8 512.4 1629.5 502.9 1631.4 491.4 1630.8Z"/>
<path fill="#2B7FF0" d="M476.2 1632.3 502.9 1634.2 518.1 1636.1 514.3 1651.4 499.1 1651.4 476.2 1651.4Z"/>
<path fill="#4169E1" d="M476.2 1635.2 499.1 1636.5 508.6 1642.8 502.9 1649.5 476.2 1650.4Z"/>
<path fill="#1A28F0" d="M476.2 1637.1 497.1 1638.1 503.8 1643.8 499.1 1648.5 476.2 1649.1Z"/>
<path fill="#300DF5" d="M476.2 1638.4 493.3 1639.6 499.1 1643.8 493.3 1647.6 476.2 1648Z"/>
<path fill="#1A9AFF" d="M491.4 1655.2 518.1 1655.6 537.2 1656.7 518.1 1657.9 491.4 1657.9Z"/>
<path fill="#1A28F0" d="M476.2 1665.1 750 1664.3 740 1665.9 796.1 1663.1 848.5 1657.5 880.3 1651.9 908.3 1646.3 945.7 1638.8 983.1 1633.2 1005.6 1631.3 1005.6 1694.9 476.2 1700.9Z"/>
<path fill="#300DF5" d="M470 1668 1010 1668 1010 1680 470 1680Z"/>
<path fill="#8A1FEB" d="M470 1671.2 1010 1671.2 1010 1680 470 1680Z"/>
</g>
<rect x="485.7" y="1381.6" width="514.7" height="294.4" fill="none" stroke="#000" stroke-width="3.4" stroke-linejoin="round"/>
<path d="M485.7 1676.0V1686.6M615.6 1676.0V1686.6M745.6 1676.0V1686.6M875.6 1676.0V1686.6M1000.4 1676.0V1686.6M485.7 1381.6H475.1M485.7 1455.2H475.1M485.7 1528.8H475.1M485.7 1602.4H475.1M485.7 1676.0H475.1" stroke="#000" stroke-width="3.4" stroke-linecap="round" fill="none"/>
<text x="485.7" y="1774.9" text-anchor="middle" class="tl" transform="matrix(1 0 0 1.03 0 -52.60)">0</text>
<text x="615.6" y="1774.9" text-anchor="middle" class="tl" transform="matrix(1 0 0 1.03 0 -52.60)">100</text>
<text x="745.6" y="1774.9" text-anchor="middle" class="tl" transform="matrix(1 0 0 1.03 0 -52.60)">200</text>
<text x="875.6" y="1774.9" text-anchor="middle" class="tl" transform="matrix(1 0 0 1.03 0 -52.60)">300</text>
<text x="1000.4" y="1774.9" text-anchor="middle" class="tl" transform="matrix(1 0 0 1.03 0 -52.60)">400</text>
<text x="433.4" y="1403.2" text-anchor="end" class="tl" transform="matrix(1 0 0 1.03 0 -41.45)">96</text>
<text x="433.4" y="1476.8" text-anchor="end" class="tl" transform="matrix(1 0 0 1.03 0 -43.66)">72</text>
<text x="433.4" y="1550.4" text-anchor="end" class="tl" transform="matrix(1 0 0 1.03 0 -45.86)">48</text>
<text x="433.4" y="1624.0" text-anchor="end" class="tl" transform="matrix(1 0 0 1.03 0 -48.07)">24</text>
<text x="433.4" y="1697.6" text-anchor="end" class="tl" transform="matrix(1 0 0 1.03 0 -50.28)">0</text>
<rect x="934.7" y="1388.8" width="57.9" height="54.1" fill="#fff" stroke="#000" stroke-width="2.8" stroke-linejoin="round"/>
<text x="952.9" y="1424.0" class="lab">G</text>
<rect x="262.7" y="1847.6" width="49.3" height="35.0" fill="#8A1FEB"/>
<rect x="312.0" y="1847.6" width="49.3" height="35.0" fill="#300DF5"/>
<rect x="361.3" y="1847.6" width="49.3" height="35.0" fill="#1A28F0"/>
<rect x="410.5" y="1847.6" width="49.3" height="35.0" fill="#4169E1"/>
<rect x="459.8" y="1847.6" width="49.3" height="35.0" fill="#2B7FF0"/>
<rect x="509.1" y="1847.6" width="49.3" height="35.0" fill="#1A9AFF"/>
<rect x="558.4" y="1847.6" width="49.3" height="35.0" fill="#00BFFF"/>
<rect x="607.7" y="1847.6" width="49.3" height="35.0" fill="#5EC4F2"/>
<rect x="656.9" y="1847.6" width="49.3" height="35.0" fill="#A3D5F0"/>
<rect x="706.2" y="1847.6" width="49.3" height="35.0" fill="#FFFDC8"/>
<rect x="755.5" y="1847.6" width="49.3" height="35.0" fill="#FFEC64"/>
<rect x="804.8" y="1847.6" width="49.3" height="35.0" fill="#FFCF2A"/>
<rect x="854.1" y="1847.6" width="49.3" height="35.0" fill="#FFAA00"/>
<rect x="903.3" y="1847.6" width="49.3" height="35.0" fill="#FF8000"/>
<rect x="952.6" y="1847.6" width="49.3" height="35.0" fill="#FF4A00"/>
<rect x="1001.9" y="1847.6" width="49.3" height="35.0" fill="#FF0000"/>
<rect x="1051.2" y="1847.6" width="49.3" height="35.0" fill="#D70000"/>
<rect x="1100.5" y="1847.6" width="49.3" height="35.0" fill="#D83232"/>
<rect x="1149.7" y="1847.6" width="49.3" height="35.0" fill="#FFB3B3"/>
<path d="M312.0 1847.6V1882.6M361.3 1847.6V1882.6M410.5 1847.6V1882.6M459.8 1847.6V1882.6M509.1 1847.6V1882.6M558.4 1847.6V1882.6M607.7 1847.6V1882.6M656.9 1847.6V1882.6M706.2 1847.6V1882.6M755.5 1847.6V1882.6M804.8 1847.6V1882.6M854.1 1847.6V1882.6M903.3 1847.6V1882.6M952.6 1847.6V1882.6M1001.9 1847.6V1882.6M1051.2 1847.6V1882.6M1100.5 1847.6V1882.6M1149.7 1847.6V1882.6" stroke="#000" stroke-width="2.8"/>
<rect x="262.7" y="1847.6" width="936.3" height="35.0" fill="none" stroke="#000" stroke-width="2.8" stroke-linejoin="round"/>
<text x="312.0" y="1927.9" text-anchor="middle" class="cl" transform="matrix(1 0 0 1.03 0 -57.34)">50</text>
<text x="410.5" y="1927.9" text-anchor="middle" class="cl" transform="matrix(1 0 0 1.03 0 -57.34)">150</text>
<text x="509.1" y="1927.9" text-anchor="middle" class="cl" transform="matrix(1 0 0 1.03 0 -57.34)">250</text>
<text x="607.7" y="1927.9" text-anchor="middle" class="cl" transform="matrix(1 0 0 1.03 0 -57.34)">350</text>
<text x="706.2" y="1927.9" text-anchor="middle" class="cl" transform="matrix(1 0 0 1.03 0 -57.34)">450</text>
<text x="804.8" y="1927.9" text-anchor="middle" class="cl" transform="matrix(1 0 0 1.03 0 -57.34)">550</text>
<text x="903.3" y="1927.9" text-anchor="middle" class="cl" transform="matrix(1 0 0 1.03 0 -57.34)">650</text>
<text x="1001.9" y="1927.9" text-anchor="middle" class="cl" transform="matrix(1 0 0 1.03 0 -57.34)">750</text>
<text x="1100.5" y="1927.9" text-anchor="middle" class="cl" transform="matrix(1 0 0 1.03 0 -57.34)">850</text>
</svg>
</body></html>
